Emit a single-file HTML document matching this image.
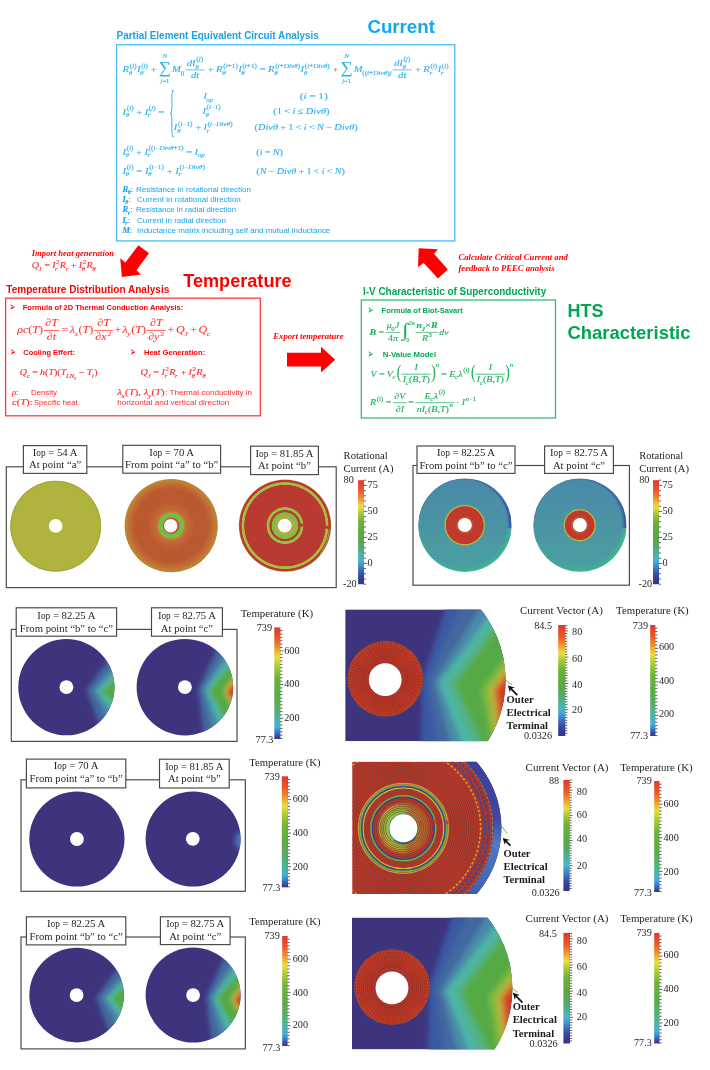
<!DOCTYPE html>
<html lang="en"><head><meta charset="utf-8"><title>Multiphysics analysis of HTS coil</title>
<style>html,body{margin:0;padding:0;background:#fff}svg{display:block}</style></head>
<body>
<svg width="710" height="1070" viewBox="0 0 710 1070">
<defs>
<linearGradient id="cb1" x1="0" y1="0" x2="0" y2="1"><stop offset="0" stop-color="#e2372c"/><stop offset="0.1" stop-color="#e8582a"/><stop offset="0.17" stop-color="#ee8c2e"/><stop offset="0.22" stop-color="#efbe36"/><stop offset="0.255" stop-color="#e6e03c"/><stop offset="0.32" stop-color="#a9c83a"/><stop offset="0.4" stop-color="#6fb13a"/><stop offset="0.55" stop-color="#58a844"/><stop offset="0.65" stop-color="#50aa72"/><stop offset="0.72" stop-color="#4cb4a4"/><stop offset="0.77" stop-color="#49b4cc"/><stop offset="0.82" stop-color="#3f8fd2"/><stop offset="0.88" stop-color="#3a5fb2"/><stop offset="0.94" stop-color="#373f96"/><stop offset="1" stop-color="#34348a"/></linearGradient>
<linearGradient id="cb2" x1="0" y1="0" x2="0" y2="1"><stop offset="0" stop-color="#f03a2e"/><stop offset="0.1" stop-color="#f4642c"/><stop offset="0.18" stop-color="#f8a030"/><stop offset="0.25" stop-color="#f2e23c"/><stop offset="0.33" stop-color="#a8d43a"/><stop offset="0.42" stop-color="#5cc03c"/><stop offset="0.56" stop-color="#46b64a"/><stop offset="0.66" stop-color="#44be86"/><stop offset="0.74" stop-color="#46c8c8"/><stop offset="0.8" stop-color="#3c9ee0"/><stop offset="0.87" stop-color="#3868c4"/><stop offset="0.94" stop-color="#3846a4"/><stop offset="1" stop-color="#363a94"/></linearGradient>
<linearGradient id="cb3" x1="0" y1="0" x2="0" y2="1"><stop offset="0" stop-color="#e2372c"/><stop offset="0.1" stop-color="#e8582a"/><stop offset="0.18" stop-color="#ee902e"/><stop offset="0.235" stop-color="#efc236"/><stop offset="0.27" stop-color="#e6e03c"/><stop offset="0.35" stop-color="#a9cb3a"/><stop offset="0.45" stop-color="#6fb43a"/><stop offset="0.6" stop-color="#5cac44"/><stop offset="0.72" stop-color="#56ae6c"/><stop offset="0.82" stop-color="#4eb4a0"/><stop offset="0.89" stop-color="#46aed6"/><stop offset="0.93" stop-color="#3c84cc"/><stop offset="0.965" stop-color="#3a54a8"/><stop offset="1" stop-color="#34348a"/></linearGradient>
<radialGradient id="rg4" cx="0.5" cy="0.5" r="0.5"><stop offset="0.0000" stop-color="#c8503a"/><stop offset="0.1652" stop-color="#c8503a"/><stop offset="0.1824" stop-color="#6cc040"/><stop offset="0.2661" stop-color="#74c044"/><stop offset="0.2897" stop-color="#c87a3a"/><stop offset="0.3433" stop-color="#c26a36"/><stop offset="0.4614" stop-color="#bd5e32"/><stop offset="0.5150" stop-color="#ba5830"/><stop offset="0.7725" stop-color="#ba5830"/><stop offset="0.8798" stop-color="#c06a32"/><stop offset="0.9549" stop-color="#c27e34"/><stop offset="1.0000" stop-color="#b08c34"/></radialGradient>
<radialGradient id="rg5" cx="0.5" cy="0.5" r="0.5"><stop offset="0.0000" stop-color="#b8a844"/><stop offset="0.1818" stop-color="#b8a844"/><stop offset="0.1991" stop-color="#a8b444"/><stop offset="0.2251" stop-color="#7cc040"/><stop offset="0.2814" stop-color="#84c042"/><stop offset="0.2944" stop-color="#b83c30"/><stop offset="0.3312" stop-color="#b83c30"/><stop offset="0.3442" stop-color="#8cc042"/><stop offset="0.3896" stop-color="#a0c044"/><stop offset="0.4048" stop-color="#b83a30"/><stop offset="0.8745" stop-color="#b83a30"/><stop offset="0.8874" stop-color="#a4bc42"/><stop offset="0.9307" stop-color="#b0bc42"/><stop offset="0.9459" stop-color="#b83a30"/><stop offset="0.9805" stop-color="#b83a30"/><stop offset="1.0000" stop-color="#b09c3c"/></radialGradient>
<clipPath id="cl6"><circle cx="465" cy="525.2" r="46.7"/></clipPath>
<linearGradient id="lg7" x1="0" y1="0" x2="0" y2="1"><stop offset="0" stop-color="#4a8aa8"/><stop offset="0.5" stop-color="#4c94a4"/><stop offset="1" stop-color="#4aa0a2"/></linearGradient>
<radialGradient id="rg8" cx="0.5" cy="0.5" r="0.5"><stop offset="0.0000" stop-color="#c86a40"/><stop offset="0.4067" stop-color="#c24a30"/><stop offset="0.4545" stop-color="#c03a2c"/><stop offset="0.8900" stop-color="#c03a2c"/><stop offset="0.9282" stop-color="#d8b040"/><stop offset="0.9569" stop-color="#70c060"/><stop offset="1.0000" stop-color="#4c94a4"/></radialGradient>
<clipPath id="cl9"><circle cx="580" cy="525.2" r="46.6"/></clipPath>
<linearGradient id="lg10" x1="0" y1="0" x2="0" y2="1"><stop offset="0" stop-color="#4a8aa8"/><stop offset="0.5" stop-color="#4c94a4"/><stop offset="1" stop-color="#4aa0a2"/></linearGradient>
<radialGradient id="rg11" cx="0.5" cy="0.5" r="0.5"><stop offset="0.0000" stop-color="#c86a40"/><stop offset="0.5090" stop-color="#c24a30"/><stop offset="0.5689" stop-color="#c03a2c"/><stop offset="0.8623" stop-color="#c03a2c"/><stop offset="0.9102" stop-color="#d8b040"/><stop offset="0.9461" stop-color="#70c060"/><stop offset="1.0000" stop-color="#4c94a4"/></radialGradient>
<filter id="bl1" x="-20%" y="-20%" width="140%" height="140%"><feGaussianBlur stdDeviation="1.9"/></filter>
<filter id="bl2" x="-20%" y="-20%" width="140%" height="140%"><feGaussianBlur stdDeviation="2.6"/></filter>
<filter id="bl08" x="-10%" y="-10%" width="120%" height="120%"><feGaussianBlur stdDeviation="0.9"/></filter>
<filter id="bl0" x="-20%" y="-20%" width="140%" height="140%"><feGaussianBlur stdDeviation="0.45"/></filter>
<clipPath id="cl12"><circle cx="66.4" cy="687.2" r="48.1"/></clipPath>
<clipPath id="cl13"><circle cx="184.9" cy="687.2" r="48.3"/></clipPath>
<clipPath id="cl14"><circle cx="392.2" cy="680.2" r="113.4"/></clipPath>
<clipPath id="cl15"><rect x="345.2" y="609.4" width="200" height="131.8"/></clipPath>
<radialGradient id="rg16" cx="0.5" cy="0.5" r="0.5"><stop offset="0.0000" stop-color="#a2322a"/><stop offset="0.4233" stop-color="#a2322a"/><stop offset="0.5159" stop-color="#b0362a"/><stop offset="0.5556" stop-color="#c83c28"/><stop offset="0.9259" stop-color="#cc402a"/><stop offset="0.9788" stop-color="#c44c2c"/><stop offset="1.0000" stop-color="#b45c2c"/></radialGradient>
<clipPath id="cl17"><circle cx="76.9" cy="839" r="47.6"/></clipPath>
<clipPath id="cl18"><circle cx="193.1" cy="839" r="47.5"/></clipPath>
<clipPath id="cl19"><circle cx="76.6" cy="995.1" r="47.2823"/></clipPath>
<clipPath id="cl20"><circle cx="193.0855" cy="995.1" r="47.478899999999996"/></clipPath>
<clipPath id="cl21"><circle cx="399.0" cy="988.4" r="113.4"/></clipPath>
<clipPath id="cl22"><rect x="352.0" y="917.6" width="200" height="131.8"/></clipPath>
<radialGradient id="rg23" cx="0.5" cy="0.5" r="0.5"><stop offset="0.0000" stop-color="#a2322a"/><stop offset="0.4233" stop-color="#a2322a"/><stop offset="0.5159" stop-color="#b0362a"/><stop offset="0.5556" stop-color="#c83c28"/><stop offset="0.9259" stop-color="#cc402a"/><stop offset="0.9788" stop-color="#c44c2c"/><stop offset="1.0000" stop-color="#b45c2c"/></radialGradient>
<clipPath id="cl24"><circle cx="401.2" cy="828" r="100.3"/></clipPath>
<clipPath id="cl25"><rect x="352.2" y="761.7" width="200" height="132.3"/></clipPath>
<radialGradient id="rg26" cx="0.5" cy="0.5" r="0.5"><stop offset="0.0000" stop-color="#3e9a5a"/><stop offset="0.5185" stop-color="#3c7a8a"/><stop offset="0.5630" stop-color="#7cc048"/><stop offset="0.6481" stop-color="#a8c442"/><stop offset="0.7593" stop-color="#c0b43c"/><stop offset="0.8704" stop-color="#c88a34"/><stop offset="0.9556" stop-color="#c8542e"/><stop offset="1.0000" stop-color="#c4392c"/></radialGradient>
<linearGradient id="lg27" x1="0" y1="0" x2="0" y2="1"><stop offset="0" stop-color="#3a3a98"/><stop offset="0.45" stop-color="#3c48a4"/><stop offset="0.58" stop-color="#4a7cc4"/><stop offset="0.72" stop-color="#4470bc"/><stop offset="1" stop-color="#3a44a0"/></linearGradient>
</defs>
<!-- top flow chart -->
<text x="116.60" y="38.60" font-size="10.0" font-family='"Liberation Sans", sans-serif' fill="#17a3e6" font-weight="bold" textLength="202.30" lengthAdjust="spacingAndGlyphs">Partial Element Equivalent Circuit Analysis</text>
<text x="367.40" y="33.00" font-size="18.5" font-family='"Liberation Sans", sans-serif' fill="#12a9ea" font-weight="bold" textLength="67.50" lengthAdjust="spacingAndGlyphs">Current</text>
<rect x="116.60" y="44.70" width="338.20" height="196.20" fill="none" stroke="#48bef1" stroke-width="1.3"/>
<text x="6.30" y="292.80" font-size="10.0" font-family='"Liberation Sans", sans-serif' fill="#ff0000" font-weight="bold" textLength="163.00" lengthAdjust="spacingAndGlyphs">Temperature Distribution Analysis</text>
<text x="183.20" y="286.60" font-size="18.5" font-family='"Liberation Sans", sans-serif' fill="#ff0000" font-weight="bold" textLength="108.40" lengthAdjust="spacingAndGlyphs">Temperature</text>
<rect x="5.60" y="298.20" width="254.70" height="117.60" fill="none" stroke="#ff3c3c" stroke-width="1.3"/>
<text x="363.00" y="294.90" font-size="10.0" font-family='"Liberation Sans", sans-serif' fill="#00a650" font-weight="bold" textLength="183.20" lengthAdjust="spacingAndGlyphs">I-V Characteristic of Superconductivity</text>
<rect x="361.30" y="300.00" width="194.20" height="118.00" fill="none" stroke="#3cbc78" stroke-width="1.3"/>
<text x="567.50" y="317.10" font-size="18.5" font-family='"Liberation Sans", sans-serif' fill="#00a650" font-weight="bold" textLength="36.00" lengthAdjust="spacingAndGlyphs">HTS</text>
<text x="567.50" y="339.40" font-size="18.5" font-family='"Liberation Sans", sans-serif' fill="#00a650" font-weight="bold" textLength="122.90" lengthAdjust="spacingAndGlyphs">Characteristic</text>
<polygon points="138.4,245.3 149.0,253.2 136.5,270.3 140.9,274.4 121.9,276.9 120.2,258.2 125.4,262.4" fill="#ff0000"/>
<polygon points="287.0,366.6 321.0,366.6 321.0,372.6 335.2,359.7 321.0,346.8 321.0,352.8 287.0,352.8" fill="#ff0000"/>
<polygon points="418.7,248.3 438.0,249.3 434.0,253.7 447.8,269.5 438.0,278.4 423.7,263.1 418.0,267.0" fill="#ff0000"/>
<text x="31.70" y="255.80" font-size="8.3" font-family='"Liberation Serif", serif' fill="#ff0000" font-weight="bold" font-style="italic" textLength="82.30" lengthAdjust="spacingAndGlyphs">Import heat generation</text>
<text x="273.30" y="339.40" font-size="8.3" font-family='"Liberation Serif", serif' fill="#ff0000" font-weight="bold" font-style="italic" textLength="70.20" lengthAdjust="spacingAndGlyphs">Export temperature</text>
<text x="458.50" y="260.10" font-size="8.3" font-family='"Liberation Serif", serif' fill="#ff0000" font-weight="bold" font-style="italic" textLength="109.30" lengthAdjust="spacingAndGlyphs">Calculate Critical Current and</text>
<text x="458.50" y="271.00" font-size="8.3" font-family='"Liberation Serif", serif' fill="#ff0000" font-weight="bold" font-style="italic" textLength="96.00" lengthAdjust="spacingAndGlyphs">feedback to PEEC analysis</text>
<!-- PEEC formulas -->
<g transform="translate(122.60,72.40) scale(1.2424,1)" fill="#2fb0ec" stroke="#2fb0ec" stroke-width="0.12" font-family='"Liberation Serif", serif'><text x="0.00" y="0.00" font-size="8.60" font-style="italic">R</text><text x="4.91" y="2.58" font-size="5.85" font-style="italic">θ</text><text x="5.77" y="-4.82" font-size="5.85">(</text><text x="7.72" y="-4.82" font-size="5.85" font-style="italic">i</text><text x="9.34" y="-4.82" font-size="5.85">)</text><text x="11.55" y="0.00" font-size="8.60" font-style="italic">I</text><text x="14.07" y="2.58" font-size="5.85" font-style="italic">θ</text><text x="14.93" y="-4.82" font-size="5.85">(</text><text x="16.87" y="-4.82" font-size="5.85" font-style="italic">i</text><text x="18.50" y="-4.82" font-size="5.85">)</text><text x="22.60" y="0.00" font-size="8.60">+</text><text transform="translate(29.34,1.03) scale(0.78,1)" font-size="17.20">∑</text><text x="30.54" y="10.58" font-size="5.33" font-style="italic">j</text><text x="32.02" y="10.58" font-size="5.33">=1</text><text x="32.34" y="-14.62" font-size="5.33" font-style="italic">N</text><text x="39.76" y="0.00" font-size="8.60" font-style="italic">M</text><text x="46.58" y="2.58" font-size="5.85" font-style="italic">ij</text><text x="51.64" y="-6.19" font-size="8.60" font-style="italic">d</text><text x="55.94" y="-6.19" font-size="8.60" font-style="italic">I</text><text x="58.46" y="-3.61" font-size="5.85" font-style="italic">θ</text><text x="59.32" y="-11.01" font-size="5.85">(</text><text x="61.27" y="-11.01" font-size="5.85" font-style="italic">j</text><text x="62.89" y="-11.01" font-size="5.85">)</text><text x="55.02" y="5.68" font-size="8.60" font-style="italic">dt</text><rect x="50.78" y="-2.77" width="15.18" height="0.56"/><text x="68.54" y="0.00" font-size="8.60">+</text><text x="75.28" y="0.00" font-size="8.60" font-style="italic">R</text><text x="80.19" y="2.58" font-size="5.85" font-style="italic">θ</text><text x="81.05" y="-4.82" font-size="5.85">(</text><text x="82.99" y="-4.82" font-size="5.85" font-style="italic">i</text><text x="84.62" y="-4.82" font-size="5.85">+1)</text><text x="93.05" y="0.00" font-size="8.60" font-style="italic">I</text><text x="95.57" y="2.58" font-size="5.85" font-style="italic">θ</text><text x="96.43" y="-4.82" font-size="5.85">(</text><text x="98.37" y="-4.82" font-size="5.85" font-style="italic">i</text><text x="100.00" y="-4.82" font-size="5.85">+1)</text><text x="110.32" y="0.00" font-size="8.60">=</text><text x="117.06" y="0.00" font-size="8.60" font-style="italic">R</text><text x="121.97" y="2.58" font-size="5.85" font-style="italic">θ</text><text x="122.83" y="-4.82" font-size="5.85">(</text><text x="124.78" y="-4.82" font-size="5.85" font-style="italic">i</text><text x="126.40" y="-4.82" font-size="5.85">+</text><text x="129.70" y="-4.82" font-size="5.85" font-style="italic">Divθ</text><text x="141.02" y="-4.82" font-size="5.85">)</text><text x="143.22" y="0.00" font-size="8.60" font-style="italic">I</text><text x="145.74" y="2.58" font-size="5.85" font-style="italic">θ</text><text x="146.60" y="-4.82" font-size="5.85">(</text><text x="148.55" y="-4.82" font-size="5.85" font-style="italic">i</text><text x="150.17" y="-4.82" font-size="5.85">+</text><text x="153.47" y="-4.82" font-size="5.85" font-style="italic">Divθ</text><text x="164.79" y="-4.82" font-size="5.85">)</text><text x="168.89" y="0.00" font-size="8.60">+</text><text transform="translate(175.63,1.03) scale(0.78,1)" font-size="17.20">∑</text><text x="176.83" y="10.58" font-size="5.33" font-style="italic">j</text><text x="178.31" y="10.58" font-size="5.33">=1</text><text x="178.63" y="-14.62" font-size="5.33" font-style="italic">N</text><text x="186.05" y="0.00" font-size="8.60" font-style="italic">M</text><text x="192.87" y="2.58" font-size="5.85">((</text><text x="196.77" y="2.58" font-size="5.85" font-style="italic">i</text><text x="198.39" y="2.58" font-size="5.85">+</text><text x="201.69" y="2.58" font-size="5.85" font-style="italic">Divθ</text><text x="213.01" y="2.58" font-size="5.85">)</text><text x="214.95" y="2.58" font-size="5.85" font-style="italic">j</text><text x="218.38" y="-6.19" font-size="8.60" font-style="italic">d</text><text x="222.68" y="-6.19" font-size="8.60" font-style="italic">I</text><text x="225.20" y="-3.61" font-size="5.85" font-style="italic">θ</text><text x="226.06" y="-11.01" font-size="5.85">(</text><text x="228.01" y="-11.01" font-size="5.85" font-style="italic">j</text><text x="229.64" y="-11.01" font-size="5.85">)</text><text x="221.77" y="5.68" font-size="8.60" font-style="italic">dt</text><rect x="217.52" y="-2.77" width="15.18" height="0.56"/><text x="235.28" y="0.00" font-size="8.60">+</text><text x="242.02" y="0.00" font-size="8.60" font-style="italic">R</text><text x="246.93" y="2.58" font-size="5.85" font-style="italic">r</text><text x="247.79" y="-4.82" font-size="5.85">(</text><text x="249.74" y="-4.82" font-size="5.85" font-style="italic">i</text><text x="251.36" y="-4.82" font-size="5.85">)</text><text x="253.57" y="0.00" font-size="8.60" font-style="italic">I</text><text x="256.09" y="2.58" font-size="5.85" font-style="italic">r</text><text x="256.95" y="-4.82" font-size="5.85">(</text><text x="258.90" y="-4.82" font-size="5.85" font-style="italic">i</text><text x="260.52" y="-4.82" font-size="5.85">)</text></g>
<g transform="translate(122.60,114.70) scale(1.2407,1)" fill="#2fb0ec" stroke="#2fb0ec" stroke-width="0.12" font-family='"Liberation Serif", serif'><text x="0.00" y="0.00" font-size="8.60" font-style="italic">I</text><text x="2.52" y="2.58" font-size="5.85" font-style="italic">θ</text><text x="3.38" y="-4.82" font-size="5.85">(</text><text x="5.33" y="-4.82" font-size="5.85" font-style="italic">i</text><text x="6.95" y="-4.82" font-size="5.85">)</text><text x="11.05" y="0.00" font-size="8.60">+</text><text x="17.79" y="0.00" font-size="8.60" font-style="italic">I</text><text x="20.31" y="2.58" font-size="5.85" font-style="italic">r</text><text x="21.17" y="-4.82" font-size="5.85">(</text><text x="23.12" y="-4.82" font-size="5.85" font-style="italic">j</text><text x="24.74" y="-4.82" font-size="5.85">)</text><text x="28.84" y="0.00" font-size="8.60">=</text></g>
<text transform="translate(169.3,130.15) scale(0.375,1.911)" font-size="30.0" font-family='"Liberation Serif", serif' fill="#2fb0ec">{</text>
<g transform="translate(203.40,99.30) scale(1.1825,1)" fill="#2fb0ec" stroke="#2fb0ec" stroke-width="0.12" font-family='"Liberation Serif", serif'><text x="0.00" y="0.00" font-size="8.60" font-style="italic">I</text><text x="2.52" y="2.58" font-size="5.85" font-style="italic">op</text></g>
<g transform="translate(202.50,114.20) scale(1.2029,1)" fill="#2fb0ec" stroke="#2fb0ec" stroke-width="0.12" font-family='"Liberation Serif", serif'><text x="0.00" y="0.00" font-size="8.60" font-style="italic">I</text><text x="2.52" y="2.58" font-size="5.85" font-style="italic">θ</text><text x="3.38" y="-4.82" font-size="5.85">(</text><text x="5.33" y="-4.82" font-size="5.85" font-style="italic">i</text><text x="6.95" y="-4.82" font-size="5.85">−1)</text></g>
<g transform="translate(173.80,130.40) scale(1.2368,1)" fill="#2fb0ec" stroke="#2fb0ec" stroke-width="0.12" font-family='"Liberation Serif", serif'><text x="0.00" y="0.00" font-size="8.60" font-style="italic">I</text><text x="2.52" y="2.58" font-size="5.85" font-style="italic">θ</text><text x="3.38" y="-4.82" font-size="5.85">(</text><text x="5.33" y="-4.82" font-size="5.85" font-style="italic">i</text><text x="6.95" y="-4.82" font-size="5.85">−1)</text><text x="17.27" y="0.00" font-size="8.60">+</text><text x="24.01" y="0.00" font-size="8.60" font-style="italic">I</text><text x="26.53" y="2.58" font-size="5.85" font-style="italic">r</text><text x="27.39" y="-4.82" font-size="5.85">(</text><text x="29.34" y="-4.82" font-size="5.85" font-style="italic">i</text><text x="30.97" y="-4.82" font-size="5.85">−</text><text x="34.26" y="-4.82" font-size="5.85" font-style="italic">Divθ</text><text x="45.58" y="-4.82" font-size="5.85">)</text></g>
<g transform="translate(299.70,98.60) scale(1.3396,1)" fill="#2fb0ec" stroke="#2fb0ec" stroke-width="0.12" font-family='"Liberation Serif", serif'><text x="0.00" y="0.00" font-size="8.60">(</text><text x="2.86" y="0.00" font-size="8.60" font-style="italic">i</text><text x="7.15" y="0.00" font-size="8.60">=</text><text x="13.89" y="0.00" font-size="8.60">1)</text></g>
<g transform="translate(273.20,114.20) scale(1.2209,1)" fill="#2fb0ec" stroke="#2fb0ec" stroke-width="0.12" font-family='"Liberation Serif", serif'><text x="0.00" y="0.00" font-size="8.60">(1</text><text x="9.06" y="0.00" font-size="8.60">&lt;</text><text x="15.80" y="0.00" font-size="8.60" font-style="italic">i</text><text x="20.08" y="0.00" font-size="8.60">≤</text><text x="26.69" y="0.00" font-size="8.60" font-style="italic">Divθ</text><text x="43.33" y="0.00" font-size="8.60">)</text></g>
<g transform="translate(254.60,130.40) scale(1.1992,1)" fill="#2fb0ec" stroke="#2fb0ec" stroke-width="0.12" font-family='"Liberation Serif", serif'><text x="0.00" y="0.00" font-size="8.60">(</text><text x="2.86" y="0.00" font-size="8.60" font-style="italic">Divθ</text><text x="21.40" y="0.00" font-size="8.60">+</text><text x="28.14" y="0.00" font-size="8.60">1</text><text x="34.33" y="0.00" font-size="8.60">&lt;</text><text x="41.07" y="0.00" font-size="8.60" font-style="italic">i</text><text x="45.35" y="0.00" font-size="8.60">&lt;</text><text x="52.10" y="0.00" font-size="8.60" font-style="italic">N</text><text x="59.73" y="0.00" font-size="8.60">−</text><text x="66.47" y="0.00" font-size="8.60" font-style="italic">Divθ</text><text x="83.11" y="0.00" font-size="8.60">)</text></g>
<g transform="translate(122.40,154.60) scale(1.2374,1)" fill="#2fb0ec" stroke="#2fb0ec" stroke-width="0.12" font-family='"Liberation Serif", serif'><text x="0.00" y="0.00" font-size="8.60" font-style="italic">I</text><text x="2.52" y="2.58" font-size="5.85" font-style="italic">θ</text><text x="3.38" y="-4.82" font-size="5.85">(</text><text x="5.33" y="-4.82" font-size="5.85" font-style="italic">i</text><text x="6.95" y="-4.82" font-size="5.85">)</text><text x="11.05" y="0.00" font-size="8.60">+</text><text x="17.79" y="0.00" font-size="8.60" font-style="italic">I</text><text x="20.31" y="2.58" font-size="5.85" font-style="italic">r</text><text x="21.17" y="-4.82" font-size="5.85">((</text><text x="25.07" y="-4.82" font-size="5.85" font-style="italic">i</text><text x="26.69" y="-4.82" font-size="5.85">−</text><text x="29.99" y="-4.82" font-size="5.85" font-style="italic">Divθ</text><text x="41.31" y="-4.82" font-size="5.85">+1)</text><text x="51.62" y="0.00" font-size="8.60">=</text><text x="58.37" y="0.00" font-size="8.60" font-style="italic">I</text><text x="60.89" y="2.58" font-size="5.85" font-style="italic">op</text></g>
<g transform="translate(256.30,154.60) scale(1.1873,1)" fill="#2fb0ec" stroke="#2fb0ec" stroke-width="0.12" font-family='"Liberation Serif", serif'><text x="0.00" y="0.00" font-size="8.60">(</text><text x="2.86" y="0.00" font-size="8.60" font-style="italic">i</text><text x="7.15" y="0.00" font-size="8.60">=</text><text x="13.89" y="0.00" font-size="8.60" font-style="italic">N</text><text x="19.62" y="0.00" font-size="8.60">)</text></g>
<g transform="translate(122.40,173.90) scale(1.2642,1)" fill="#2fb0ec" stroke="#2fb0ec" stroke-width="0.12" font-family='"Liberation Serif", serif'><text x="0.00" y="0.00" font-size="8.60" font-style="italic">I</text><text x="2.52" y="2.58" font-size="5.85" font-style="italic">θ</text><text x="3.38" y="-4.82" font-size="5.85">(</text><text x="5.33" y="-4.82" font-size="5.85" font-style="italic">i</text><text x="6.95" y="-4.82" font-size="5.85">)</text><text x="11.05" y="0.00" font-size="8.60">=</text><text x="17.79" y="0.00" font-size="8.60" font-style="italic">I</text><text x="20.31" y="2.58" font-size="5.85" font-style="italic">θ</text><text x="21.17" y="-4.82" font-size="5.85">(</text><text x="23.12" y="-4.82" font-size="5.85" font-style="italic">i</text><text x="24.74" y="-4.82" font-size="5.85">−1)</text><text x="35.06" y="0.00" font-size="8.60">+</text><text x="41.81" y="0.00" font-size="8.60" font-style="italic">I</text><text x="44.33" y="2.58" font-size="5.85" font-style="italic">r</text><text x="45.19" y="-4.82" font-size="5.85">(</text><text x="47.13" y="-4.82" font-size="5.85" font-style="italic">i</text><text x="48.76" y="-4.82" font-size="5.85">−</text><text x="52.06" y="-4.82" font-size="5.85" font-style="italic">Divθ</text><text x="63.37" y="-4.82" font-size="5.85">)</text></g>
<g transform="translate(256.30,173.90) scale(1.1803,1)" fill="#2fb0ec" stroke="#2fb0ec" stroke-width="0.12" font-family='"Liberation Serif", serif'><text x="0.00" y="0.00" font-size="8.60">(</text><text x="2.86" y="0.00" font-size="8.60" font-style="italic">N</text><text x="10.49" y="0.00" font-size="8.60">−</text><text x="17.23" y="0.00" font-size="8.60" font-style="italic">Divθ</text><text x="35.77" y="0.00" font-size="8.60">+</text><text x="42.51" y="0.00" font-size="8.60">1</text><text x="48.70" y="0.00" font-size="8.60">&lt;</text><text x="55.44" y="0.00" font-size="8.60" font-style="italic">i</text><text x="59.73" y="0.00" font-size="8.60">&lt;</text><text x="66.47" y="0.00" font-size="8.60" font-style="italic">N</text><text x="72.20" y="0.00" font-size="8.60">)</text></g>
<g transform="translate(122.40,191.50) scale(1.0000,1)" fill="#1aa3e6" stroke="#1aa3e6" stroke-width="0.12" font-family='"Liberation Serif", serif'><text x="0.00" y="0.00" font-size="8.40" font-style="italic" font-weight="bold">R</text><text x="5.27" y="2.52" font-size="5.71" font-style="italic" font-weight="bold">θ</text><text x="8.48" y="0.00" font-size="8.40">:</text></g>
<text x="136.00" y="191.50" font-size="7.1" font-family='"Liberation Sans", sans-serif' fill="#1aa3e6" textLength="114.90" lengthAdjust="spacingAndGlyphs">Resistance in rotational direction</text>
<g transform="translate(122.40,201.90) scale(1.0000,1)" fill="#1aa3e6" stroke="#1aa3e6" stroke-width="0.12" font-family='"Liberation Serif", serif'><text x="0.00" y="0.00" font-size="8.40" font-style="italic" font-weight="bold">I</text><text x="2.93" y="2.52" font-size="5.71" font-style="italic" font-weight="bold">θ</text><text x="6.15" y="0.00" font-size="8.40">:</text></g>
<text x="137.00" y="201.90" font-size="7.1" font-family='"Liberation Sans", sans-serif' fill="#1aa3e6" textLength="103.80" lengthAdjust="spacingAndGlyphs">Current in rotational direction</text>
<g transform="translate(122.40,212.10) scale(1.0000,1)" fill="#1aa3e6" stroke="#1aa3e6" stroke-width="0.12" font-family='"Liberation Serif", serif'><text x="0.00" y="0.00" font-size="8.40" font-style="italic" font-weight="bold">R</text><text x="5.27" y="2.52" font-size="5.71" font-style="italic" font-weight="bold">r</text><text x="7.74" y="0.00" font-size="8.40">:</text></g>
<text x="136.00" y="212.10" font-size="7.1" font-family='"Liberation Sans", sans-serif' fill="#1aa3e6" textLength="100.00" lengthAdjust="spacingAndGlyphs">Resistance in radial direction</text>
<g transform="translate(122.40,222.90) scale(1.0000,1)" fill="#1aa3e6" stroke="#1aa3e6" stroke-width="0.12" font-family='"Liberation Serif", serif'><text x="0.00" y="0.00" font-size="8.40" font-style="italic" font-weight="bold">I</text><text x="2.93" y="2.52" font-size="5.71" font-style="italic" font-weight="bold">r</text><text x="5.41" y="0.00" font-size="8.40">:</text></g>
<text x="137.00" y="222.90" font-size="7.1" font-family='"Liberation Sans", sans-serif' fill="#1aa3e6" textLength="88.90" lengthAdjust="spacingAndGlyphs">Current in radial direction</text>
<g transform="translate(122.40,233.40) scale(1.0000,1)" fill="#1aa3e6" stroke="#1aa3e6" stroke-width="0.12" font-family='"Liberation Serif", serif'><text x="0.00" y="0.00" font-size="8.40" font-style="italic" font-weight="bold">M</text><text x="7.47" y="0.00" font-size="8.40">:</text></g>
<text x="137.00" y="233.40" font-size="7.1" font-family='"Liberation Sans", sans-serif' fill="#1aa3e6" textLength="193.30" lengthAdjust="spacingAndGlyphs">Inductance matrix including self and mutual inductance</text>
<!-- thermal formulas -->
<text x="9.60" y="311.30" font-size="12.5" font-family='"DejaVu Sans", sans-serif' fill="#ff0000" textLength="5.80" lengthAdjust="spacingAndGlyphs">➢</text>
<text x="22.80" y="310.30" font-size="7.4" font-family='"Liberation Sans", sans-serif' fill="#ff0000" font-weight="bold" textLength="160.40" lengthAdjust="spacingAndGlyphs">Formula of 2D Thermal Conduction Analysis:</text>
<g transform="translate(17.20,333.30) scale(1.1804,1)" fill="#ff2a2a" stroke="#ff2a2a" stroke-width="0.04" font-family='"Liberation Serif", serif'><text x="0.00" y="0.00" font-size="10.20" font-style="italic">ρc</text><text x="9.42" y="0.00" font-size="10.20">(</text><text x="12.82" y="0.00" font-size="10.20" font-style="italic">T</text><text x="18.49" y="0.00" font-size="10.20">)</text><text x="23.73" y="-7.34" font-size="10.20">∂</text><text x="28.77" y="-7.34" font-size="10.20" font-style="italic">T</text><text x="25.14" y="6.73" font-size="10.20">∂</text><text x="30.18" y="6.73" font-size="10.20" font-style="italic">t</text><rect x="22.71" y="-3.29" width="12.75" height="0.66"/><text x="37.50" y="0.00" font-size="10.20">=</text><text x="44.47" y="0.00" font-size="10.20" font-style="italic">λ</text><text x="48.48" y="3.06" font-size="6.94" font-style="italic">x</text><text x="51.87" y="0.00" font-size="10.20">(</text><text x="55.27" y="0.00" font-size="10.20" font-style="italic">T</text><text x="60.94" y="0.00" font-size="10.20">)</text><text x="67.79" y="-7.34" font-size="10.20">∂</text><text x="72.83" y="-7.34" font-size="10.20" font-style="italic">T</text><text x="66.17" y="6.73" font-size="10.20">∂</text><text x="71.21" y="6.73" font-size="10.20" font-style="italic">x</text><text x="76.35" y="2.65" font-size="6.94">2</text><rect x="65.15" y="-3.29" width="15.99" height="0.66"/><text x="82.47" y="0.00" font-size="10.20">+</text><text x="89.24" y="0.00" font-size="10.20" font-style="italic">λ</text><text x="93.25" y="3.06" font-size="6.94" font-style="italic">y</text><text x="96.64" y="0.00" font-size="10.20">(</text><text x="100.03" y="0.00" font-size="10.20" font-style="italic">T</text><text x="105.71" y="0.00" font-size="10.20">)</text><text x="112.56" y="-7.34" font-size="10.20">∂</text><text x="117.60" y="-7.34" font-size="10.20" font-style="italic">T</text><text x="110.94" y="6.73" font-size="10.20">∂</text><text x="115.98" y="6.73" font-size="10.20" font-style="italic">y</text><text x="121.12" y="2.65" font-size="6.94">2</text><rect x="109.92" y="-3.29" width="15.99" height="0.66"/><text x="127.24" y="0.00" font-size="10.20">+</text><text x="134.52" y="0.00" font-size="10.20" font-style="italic">Q</text><text x="141.48" y="3.06" font-size="6.94" font-style="italic">J</text><text x="146.39" y="0.00" font-size="10.20">+</text><text x="153.68" y="0.00" font-size="10.20" font-style="italic">Q</text><text x="160.63" y="3.06" font-size="6.94" font-style="italic">c</text></g>
<text x="10.00" y="356.20" font-size="12.5" font-family='"DejaVu Sans", sans-serif' fill="#ff0000" textLength="5.80" lengthAdjust="spacingAndGlyphs">➢</text>
<text x="23.30" y="355.20" font-size="7.4" font-family='"Liberation Sans", sans-serif' fill="#ff0000" font-weight="bold" textLength="51.70" lengthAdjust="spacingAndGlyphs">Cooling Effert:</text>
<text x="130.00" y="356.20" font-size="12.5" font-family='"DejaVu Sans", sans-serif' fill="#ff0000" textLength="5.80" lengthAdjust="spacingAndGlyphs">➢</text>
<text x="143.90" y="355.20" font-size="7.4" font-family='"Liberation Sans", sans-serif' fill="#ff0000" font-weight="bold" textLength="61.30" lengthAdjust="spacingAndGlyphs">Heat Generation:</text>
<g transform="translate(19.80,375.40) scale(1.1677,1)" fill="#ff2a2a" stroke="#ff2a2a" stroke-width="0.12" font-family='"Liberation Serif", serif'><text x="0.00" y="0.00" font-size="8.60" font-style="italic">Q</text><text x="5.87" y="2.58" font-size="5.85" font-style="italic">c</text><text x="10.61" y="0.00" font-size="8.60">=</text><text x="17.35" y="0.00" font-size="8.60" font-style="italic">h</text><text x="21.65" y="0.00" font-size="8.60">(</text><text x="24.52" y="0.00" font-size="8.60" font-style="italic">T</text><text x="29.30" y="0.00" font-size="8.60">)(</text><text x="35.03" y="0.00" font-size="8.60" font-style="italic">T</text><text x="39.47" y="2.58" font-size="5.85" font-style="italic">LN</text><text x="46.39" y="4.33" font-size="3.98">2</text><text x="50.70" y="0.00" font-size="8.60">−</text><text x="57.44" y="0.00" font-size="8.60" font-style="italic">T</text><text x="61.88" y="2.58" font-size="5.85" font-style="italic">t</text><text x="63.76" y="0.00" font-size="8.60">)</text></g>
<g transform="translate(140.60,375.40) scale(1.1979,1)" fill="#ff2a2a" stroke="#ff2a2a" stroke-width="0.12" font-family='"Liberation Serif", serif'><text x="0.00" y="0.00" font-size="8.60" font-style="italic">Q</text><text x="5.87" y="2.58" font-size="5.85" font-style="italic">J</text><text x="10.61" y="0.00" font-size="8.60">=</text><text x="17.35" y="0.00" font-size="8.60" font-style="italic">I</text><text x="19.87" y="2.58" font-size="5.85" font-style="italic">r</text><text x="20.73" y="-3.96" font-size="5.85">2</text><text x="23.92" y="0.00" font-size="8.60" font-style="italic">R</text><text x="28.83" y="2.58" font-size="5.85" font-style="italic">r</text><text x="33.25" y="0.00" font-size="8.60">+</text><text x="39.99" y="0.00" font-size="8.60" font-style="italic">I</text><text x="42.51" y="2.58" font-size="5.85" font-style="italic">θ</text><text x="43.37" y="-3.96" font-size="5.85">2</text><text x="46.56" y="0.00" font-size="8.60" font-style="italic">R</text><text x="51.46" y="2.58" font-size="5.85" font-style="italic">θ</text></g>
<g transform="translate(11.90,395.20) scale(1.0000,1)" fill="#ff2a2a" stroke="#ff2a2a" stroke-width="0.12" font-family='"Liberation Serif", serif'><text x="0.00" y="0.00" font-size="8.60" font-style="italic">ρ</text><text x="4.13" y="0.00" font-size="8.60">:</text></g>
<text x="31.00" y="395.20" font-size="7.1" font-family='"Liberation Sans", sans-serif' fill="#ff2a2a" textLength="26.00" lengthAdjust="spacingAndGlyphs">Density</text>
<g transform="translate(11.90,405.40) scale(1.2383,1)" fill="#ff2a2a" stroke="#ff2a2a" stroke-width="0.12" font-family='"Liberation Serif", serif'><text x="0.00" y="0.00" font-size="8.60" font-style="italic">c</text><text x="3.82" y="0.00" font-size="8.60">(</text><text x="6.68" y="0.00" font-size="8.60" font-style="italic">T</text><text x="11.46" y="0.00" font-size="8.60">):</text></g>
<text x="34.00" y="405.40" font-size="7.1" font-family='"Liberation Sans", sans-serif' fill="#ff2a2a" textLength="43.50" lengthAdjust="spacingAndGlyphs">Specific heat</text>
<g transform="translate(117.20,395.20) scale(1.2569,1)" fill="#ff2a2a" stroke="#ff2a2a" stroke-width="0.12" font-family='"Liberation Serif", serif'><text x="0.00" y="0.00" font-size="8.60" font-style="italic">λ</text><text x="3.38" y="2.58" font-size="5.85" font-style="italic">x</text><text x="6.23" y="0.00" font-size="8.60">(</text><text x="9.10" y="0.00" font-size="8.60" font-style="italic">T</text><text x="13.88" y="0.00" font-size="8.60">),</text><text x="21.04" y="0.00" font-size="8.60" font-style="italic">λ</text><text x="24.43" y="2.58" font-size="5.85" font-style="italic">y</text><text x="27.28" y="0.00" font-size="8.60">(</text><text x="30.14" y="0.00" font-size="8.60" font-style="italic">T</text><text x="34.93" y="0.00" font-size="8.60">)</text></g>
<text x="165.20" y="395.20" font-size="7.1" font-family='"Liberation Sans", sans-serif' fill="#ff2a2a" textLength="86.90" lengthAdjust="spacingAndGlyphs">: Thermal conductivity in</text>
<text x="117.20" y="405.40" font-size="7.1" font-family='"Liberation Sans", sans-serif' fill="#ff2a2a" textLength="112.10" lengthAdjust="spacingAndGlyphs">horizontal and vertical direction</text>
<g transform="translate(31.70,268.00) scale(1.2058,1)" fill="#ff2a2a" stroke="#ff2a2a" stroke-width="0.12" font-family='"Liberation Serif", serif'><text x="0.00" y="0.00" font-size="8.40" font-style="italic">Q</text><text x="5.73" y="2.52" font-size="5.71" font-style="italic">J</text><text x="10.37" y="0.00" font-size="8.40">=</text><text x="16.95" y="0.00" font-size="8.40" font-style="italic">I</text><text x="19.41" y="2.52" font-size="5.71" font-style="italic">r</text><text x="20.25" y="-3.86" font-size="5.71">2</text><text x="23.36" y="0.00" font-size="8.40" font-style="italic">R</text><text x="28.16" y="2.52" font-size="5.71" font-style="italic">r</text><text x="32.48" y="0.00" font-size="8.40">+</text><text x="39.06" y="0.00" font-size="8.40" font-style="italic">I</text><text x="41.52" y="2.52" font-size="5.71" font-style="italic">θ</text><text x="42.36" y="-3.86" font-size="5.71">2</text><text x="45.47" y="0.00" font-size="8.40" font-style="italic">R</text><text x="50.27" y="2.52" font-size="5.71" font-style="italic">θ</text></g>
<!-- I-V formulas -->
<text x="367.40" y="314.20" font-size="12.5" font-family='"DejaVu Sans", sans-serif' fill="#00a650" textLength="5.80" lengthAdjust="spacingAndGlyphs">➢</text>
<text x="381.60" y="313.20" font-size="7.4" font-family='"Liberation Sans", sans-serif' fill="#00a650" font-weight="bold" textLength="81.10" lengthAdjust="spacingAndGlyphs">Formula of Biot-Savart</text>
<g transform="translate(369.60,334.70) scale(1.1799,1)" fill="#1faf5f" stroke="#1faf5f" stroke-width="0.12" font-family='"Liberation Serif", serif'><text x="0.00" y="0.00" font-size="8.40" font-style="italic" font-weight="bold">B</text><text x="7.45" y="0.00" font-size="8.40">=</text><text x="14.54" y="-6.72" font-size="8.40" font-style="italic">μ</text><text x="18.42" y="-4.20" font-size="5.71">0</text><text x="21.53" y="-6.72" font-size="8.40" font-style="italic">J</text><text x="15.69" y="5.88" font-size="8.40">4</text><text x="19.89" y="5.88" font-size="8.40" font-style="italic">π</text><rect x="13.70" y="-2.71" width="12.40" height="0.55"/><text x="27.61" y="1.11" font-size="18.48">∫</text><text x="31.15" y="7.14" font-size="5.21">0</text><text x="33.18" y="-9.91" font-size="5.21">2</text><text x="35.78" y="-9.91" font-size="5.21" font-style="italic">π</text><text x="39.82" y="-6.72" font-size="8.40" font-style="italic" font-weight="bold">n</text><text x="44.15" y="-4.20" font-size="5.71" font-style="italic" font-weight="bold">J</text><text x="47.26" y="-6.72" font-size="8.40">×</text><text x="52.00" y="-6.72" font-size="8.40" font-style="italic" font-weight="bold">R</text><text x="44.34" y="5.88" font-size="8.40" font-style="italic">R</text><text x="49.97" y="2.35" font-size="5.71">3</text><rect x="38.98" y="-2.71" width="19.46" height="0.55"/><text x="59.11" y="0.00" font-size="8.40" font-style="italic">dv</text></g>
<text x="367.40" y="358.00" font-size="12.5" font-family='"DejaVu Sans", sans-serif' fill="#00a650" textLength="5.80" lengthAdjust="spacingAndGlyphs">➢</text>
<text x="382.80" y="357.00" font-size="7.4" font-family='"Liberation Sans", sans-serif' fill="#00a650" font-weight="bold" textLength="53.30" lengthAdjust="spacingAndGlyphs">N-Value Model</text>
<g transform="translate(370.60,376.60) scale(1.1922,1)" fill="#1faf5f" stroke="#1faf5f" stroke-width="0.12" font-family='"Liberation Serif", serif'><text x="0.00" y="0.00" font-size="8.40" font-style="italic">V</text><text x="6.98" y="0.00" font-size="8.40">=</text><text x="13.56" y="0.00" font-size="8.40" font-style="italic">V</text><text x="18.36" y="2.52" font-size="5.71" font-style="italic">c</text><text transform="translate(21.99,1.85) scale(0.62,1)" font-size="18.48">(</text><text x="36.91" y="-6.72" font-size="8.40" font-style="italic">I</text><text x="26.93" y="5.71" font-size="8.40" font-style="italic">I</text><text x="29.39" y="8.23" font-size="5.71" font-style="italic">c</text><text x="32.18" y="5.71" font-size="8.40">(</text><text x="34.98" y="5.71" font-size="8.40" font-style="italic">B</text><text x="40.11" y="5.71" font-size="8.40">,</text><text x="42.21" y="5.71" font-size="8.40" font-style="italic">T</text><text x="46.88" y="5.71" font-size="8.40">)</text><rect x="26.09" y="-2.71" width="24.43" height="0.55"/><text transform="translate(50.81,1.85) scale(0.62,1)" font-size="18.48">)</text><text x="54.62" y="-10.08" font-size="5.71" font-style="italic">n</text><text x="59.33" y="0.00" font-size="8.40">=</text><text x="65.91" y="0.00" font-size="8.40" font-style="italic">E</text><text x="70.71" y="2.52" font-size="5.71" font-style="italic">c</text><text x="73.50" y="0.00" font-size="8.40" font-style="italic">λ</text><text x="77.64" y="-4.70" font-size="5.71">(</text><text x="79.54" y="-4.70" font-size="5.71" font-style="italic">i</text><text x="81.13" y="-4.70" font-size="5.71">)</text><text transform="translate(84.12,1.85) scale(0.62,1)" font-size="18.48">(</text><text x="99.04" y="-6.72" font-size="8.40" font-style="italic">I</text><text x="89.07" y="5.71" font-size="8.40" font-style="italic">I</text><text x="91.53" y="8.23" font-size="5.71" font-style="italic">c</text><text x="94.32" y="5.71" font-size="8.40">(</text><text x="97.11" y="5.71" font-size="8.40" font-style="italic">B</text><text x="102.24" y="5.71" font-size="8.40">,</text><text x="104.34" y="5.71" font-size="8.40" font-style="italic">T</text><text x="109.02" y="5.71" font-size="8.40">)</text><rect x="88.23" y="-2.71" width="24.43" height="0.55"/><text transform="translate(112.94,1.85) scale(0.62,1)" font-size="18.48">)</text><text x="116.76" y="-10.08" font-size="5.71" font-style="italic">n</text></g>
<g transform="translate(370.10,405.20) scale(1.1969,1)" fill="#1faf5f" stroke="#1faf5f" stroke-width="0.12" font-family='"Liberation Serif", serif'><text x="0.00" y="0.00" font-size="8.40" font-style="italic">R</text><text x="5.64" y="-4.70" font-size="5.71">(</text><text x="7.54" y="-4.70" font-size="5.71" font-style="italic">i</text><text x="9.12" y="-4.70" font-size="5.71">)</text><text x="13.13" y="0.00" font-size="8.40">=</text><text x="20.22" y="-6.30" font-size="8.40">∂</text><text x="24.37" y="-6.30" font-size="8.40" font-style="italic">V</text><text x="21.38" y="6.38" font-size="8.40">∂</text><text x="25.53" y="6.38" font-size="8.40" font-style="italic">I</text><rect x="19.38" y="-2.71" width="10.96" height="0.55"/><text x="31.85" y="0.00" font-size="8.40">=</text><text x="45.53" y="-6.30" font-size="8.40" font-style="italic">E</text><text x="50.33" y="-3.78" font-size="5.71" font-style="italic">c</text><text x="53.12" y="-6.30" font-size="8.40" font-style="italic">λ</text><text x="57.26" y="-11.00" font-size="5.71">(</text><text x="59.16" y="-11.00" font-size="5.71" font-style="italic">i</text><text x="60.75" y="-11.00" font-size="5.71">)</text><text x="38.94" y="6.38" font-size="8.40" font-style="italic">n</text><text x="43.14" y="6.38" font-size="8.40" font-style="italic">I</text><text x="45.60" y="8.90" font-size="5.71" font-style="italic">c</text><text x="48.39" y="6.38" font-size="8.40">(</text><text x="51.18" y="6.38" font-size="8.40" font-style="italic">B</text><text x="56.32" y="6.38" font-size="8.40">,</text><text x="58.42" y="6.38" font-size="8.40" font-style="italic">T</text><text x="63.09" y="6.38" font-size="8.40">)</text><text x="66.39" y="1.68" font-size="5.71" font-style="italic">n</text><rect x="38.10" y="-2.71" width="32.24" height="0.55"/><text x="71.85" y="0.00" font-size="8.40">·</text><text x="76.49" y="0.00" font-size="8.40" font-style="italic">I</text><text x="79.80" y="-4.70" font-size="5.71" font-style="italic">n</text><text x="82.65" y="-4.70" font-size="5.71">−1</text></g>
<!-- simulation result panels -->
<rect x="6.30" y="466.80" width="329.90" height="120.80" fill="none" stroke="#464646" stroke-width="1.15"/>
<rect x="23.40" y="445.60" width="63.40" height="27.80" fill="#fff" stroke="#464646" stroke-width="1.15"/>
<text x="55.10" y="456.00" font-size="10.7" font-family='"Liberation Serif", serif' fill="#1f1f1f" text-anchor="middle">I<tspan font-size="9.3">op</tspan> = 54 A</text>
<text x="55.10" y="468.40" font-size="10.7" font-family='"Liberation Serif", serif' fill="#1f1f1f" text-anchor="middle">At point “a”</text>
<rect x="122.80" y="445.30" width="97.80" height="27.90" fill="#fff" stroke="#464646" stroke-width="1.15"/>
<text x="171.70" y="455.70" font-size="10.7" font-family='"Liberation Serif", serif' fill="#1f1f1f" text-anchor="middle">I<tspan font-size="9.3">op</tspan> = 70 A</text>
<text x="171.70" y="468.10" font-size="10.7" font-family='"Liberation Serif", serif' fill="#1f1f1f" text-anchor="middle">From point “a” to “b”</text>
<rect x="250.60" y="446.20" width="67.80" height="28.40" fill="#fff" stroke="#464646" stroke-width="1.15"/>
<text x="284.50" y="456.60" font-size="10.7" font-family='"Liberation Serif", serif' fill="#1f1f1f" text-anchor="middle">I<tspan font-size="9.3">op</tspan> = 81.85 A</text>
<text x="284.50" y="469.00" font-size="10.7" font-family='"Liberation Serif", serif' fill="#1f1f1f" text-anchor="middle">At point “b”</text>
<circle cx="55.7" cy="526.2" r="45.4" fill="#b1b33f"/>
<circle cx="55.7" cy="526.2" r="44.9" fill="none" stroke="#a3a63a" stroke-width="1"/>
<circle cx="55.7" cy="525.9" r="6.8" fill="#fff"/>
<circle cx="171.2" cy="525.7" r="46.6" fill="url(#rg4)"/>
<circle cx="170.7" cy="525.7" r="6.7" fill="#fff"/>
<circle cx="285" cy="525.6" r="46.2" fill="url(#rg5)"/>
<path d="M300.2 523.6l3.6 0.4l0 2.6l-3.6 -0.2zM325.2 525.4l3.4 0.6l0 3l-3.4 -0.8z" fill="#b83a30"/>
<path d="M329.3 529a44.4 44.4 0 0 1 -9 25" fill="none" stroke="#a8a040" stroke-width="1.1"/>
<circle cx="284.7" cy="525.6" r="6.9" fill="#fff"/>
<text x="343.60" y="458.70" font-size="10.4" font-family='"Liberation Serif", serif' fill="#1f1f1f" textLength="44.00" lengthAdjust="spacingAndGlyphs">Rotational</text>
<text x="343.60" y="471.80" font-size="10.4" font-family='"Liberation Serif", serif' fill="#1f1f1f" textLength="49.90" lengthAdjust="spacingAndGlyphs">Current (A)</text>
<text x="343.60" y="482.90" font-size="10.2" font-family='"Liberation Serif", serif' fill="#1f1f1f">80</text>
<text x="343.00" y="587.20" font-size="10.2" font-family='"Liberation Serif", serif' fill="#1f1f1f">-20</text>
<rect x="358.10" y="480.20" width="5.90" height="104.00" fill="url(#cb1)"/>
<path d="M363.70 584.20h2.3M363.70 579.00h2.3M363.70 573.80h2.3M363.70 568.60h2.3M363.70 563.40h3.5M363.70 558.20h2.3M363.70 553.00h2.3M363.70 547.80h2.3M363.70 542.60h2.3M363.70 537.40h3.5M363.70 532.20h2.3M363.70 527.00h2.3M363.70 521.80h2.3M363.70 516.60h2.3M363.70 511.40h3.5M363.70 506.20h2.3M363.70 501.00h2.3M363.70 495.80h2.3M363.70 490.60h2.3M363.70 485.40h3.5M363.70 480.20h2.3" stroke="#333" stroke-width="0.75" fill="none"/>
<text x="367.60" y="488.00" font-size="10.2" font-family='"Liberation Serif", serif' fill="#1f1f1f">75</text>
<text x="367.60" y="514.20" font-size="10.2" font-family='"Liberation Serif", serif' fill="#1f1f1f">50</text>
<text x="367.60" y="540.40" font-size="10.2" font-family='"Liberation Serif", serif' fill="#1f1f1f">25</text>
<text x="367.60" y="566.40" font-size="10.2" font-family='"Liberation Serif", serif' fill="#1f1f1f">0</text>
<rect x="413.00" y="465.50" width="216.40" height="119.70" fill="none" stroke="#464646" stroke-width="1.15"/>
<rect x="417.00" y="446.00" width="98.00" height="27.40" fill="#fff" stroke="#464646" stroke-width="1.15"/>
<text x="466.00" y="456.40" font-size="10.7" font-family='"Liberation Serif", serif' fill="#1f1f1f" text-anchor="middle">I<tspan font-size="9.3">op</tspan> = 82.25 A</text>
<text x="466.00" y="468.80" font-size="10.7" font-family='"Liberation Serif", serif' fill="#1f1f1f" text-anchor="middle">From point “b” to “c”</text>
<rect x="544.60" y="446.00" width="68.80" height="27.40" fill="#fff" stroke="#464646" stroke-width="1.15"/>
<text x="579.00" y="456.40" font-size="10.7" font-family='"Liberation Serif", serif' fill="#1f1f1f" text-anchor="middle">I<tspan font-size="9.3">op</tspan> = 82.75 A</text>
<text x="579.00" y="468.80" font-size="10.7" font-family='"Liberation Serif", serif' fill="#1f1f1f" text-anchor="middle">At point “c”</text>
<g clip-path="url(#cl6)">
<rect x="418.3" y="478.50000000000006" width="93.4" height="50.2" fill="#3856a6"/>
<rect x="418.3" y="528.7" width="93.4" height="46.7" fill="#3fb48c"/>
<circle cx="463.1" cy="523.9000000000001" r="45.5" fill="url(#lg7)" filter="url(#bl08)"/>
</g>
<circle cx="464.7" cy="525.2" r="20.9" fill="url(#rg8)"/>
<circle cx="464.8" cy="525.0" r="7" fill="#fff"/>
<g clip-path="url(#cl9)">
<rect x="533.4" y="478.6" width="93.2" height="50.1" fill="#3856a6"/>
<rect x="533.4" y="528.7" width="93.2" height="46.6" fill="#3fb48c"/>
<circle cx="578.1" cy="523.9000000000001" r="45.4" fill="url(#lg10)" filter="url(#bl08)"/>
</g>
<circle cx="579.7" cy="525.2" r="16.7" fill="url(#rg11)"/>
<circle cx="579.8" cy="525.0" r="7" fill="#fff"/>
<text x="639.20" y="458.70" font-size="10.4" font-family='"Liberation Serif", serif' fill="#1f1f1f" textLength="44.00" lengthAdjust="spacingAndGlyphs">Rotational</text>
<text x="639.20" y="471.80" font-size="10.4" font-family='"Liberation Serif", serif' fill="#1f1f1f" textLength="49.90" lengthAdjust="spacingAndGlyphs">Current (A)</text>
<text x="639.20" y="482.90" font-size="10.2" font-family='"Liberation Serif", serif' fill="#1f1f1f">80</text>
<text x="638.60" y="587.20" font-size="10.2" font-family='"Liberation Serif", serif' fill="#1f1f1f">-20</text>
<rect x="653.00" y="480.20" width="6.00" height="104.00" fill="url(#cb1)"/>
<path d="M658.70 584.20h2.3M658.70 579.00h2.3M658.70 573.80h2.3M658.70 568.60h2.3M658.70 563.40h3.5M658.70 558.20h2.3M658.70 553.00h2.3M658.70 547.80h2.3M658.70 542.60h2.3M658.70 537.40h3.5M658.70 532.20h2.3M658.70 527.00h2.3M658.70 521.80h2.3M658.70 516.60h2.3M658.70 511.40h3.5M658.70 506.20h2.3M658.70 501.00h2.3M658.70 495.80h2.3M658.70 490.60h2.3M658.70 485.40h3.5M658.70 480.20h2.3" stroke="#333" stroke-width="0.75" fill="none"/>
<text x="662.60" y="488.00" font-size="10.2" font-family='"Liberation Serif", serif' fill="#1f1f1f">75</text>
<text x="662.60" y="514.20" font-size="10.2" font-family='"Liberation Serif", serif' fill="#1f1f1f">50</text>
<text x="662.60" y="540.40" font-size="10.2" font-family='"Liberation Serif", serif' fill="#1f1f1f">25</text>
<text x="662.60" y="566.40" font-size="10.2" font-family='"Liberation Serif", serif' fill="#1f1f1f">0</text>
<rect x="11.30" y="629.40" width="225.70" height="112.00" fill="none" stroke="#464646" stroke-width="1.15"/>
<rect x="16.20" y="607.80" width="100.40" height="28.40" fill="#fff" stroke="#464646" stroke-width="1.15"/>
<text x="66.40" y="619.20" font-size="10.7" font-family='"Liberation Serif", serif' fill="#1f1f1f" text-anchor="middle">I<tspan font-size="9.3">op</tspan> = 82.25 A</text>
<text x="66.40" y="631.50" font-size="10.7" font-family='"Liberation Serif", serif' fill="#1f1f1f" text-anchor="middle">From point “b” to “c”</text>
<rect x="151.50" y="607.80" width="70.90" height="28.40" fill="#fff" stroke="#464646" stroke-width="1.15"/>
<text x="186.95" y="619.20" font-size="10.7" font-family='"Liberation Serif", serif' fill="#1f1f1f" text-anchor="middle">I<tspan font-size="9.3">op</tspan> = 82.75 A</text>
<text x="186.95" y="631.50" font-size="10.7" font-family='"Liberation Serif", serif' fill="#1f1f1f" text-anchor="middle">At point “c”</text>
<circle cx="66.4" cy="687.2" r="48.1" fill="#3e347e"/>
<g clip-path="url(#cl12)"><g filter="url(#bl1)">
<polygon points="86.1,689.9 147.0,607.4 314.5,607.4 314.5,784.7 122.7,784.7" fill="#42689f"/>
<polygon points="92.5,690.4 145.0,627.7 314.5,627.7 314.5,761.2 130.0,761.2" fill="#4888a8"/>
<polygon points="96.6,690.7 142.8,641.8 314.5,641.8 314.5,744.4 135.6,744.4" fill="#4eb6a6"/>
<polygon points="101.4,691.0 138.0,656.2 314.5,656.2 314.5,728.2 136.8,728.2" fill="#56aa44"/>
</g></g>
<circle cx="66.4" cy="687.2" r="6.9" fill="#fff"/>
<circle cx="184.9" cy="687.2" r="48.3" fill="#3e347e"/>
<g clip-path="url(#cl13)"><g filter="url(#bl1)">
<polygon points="198.0,689.1 251.4,574.8 433.2,574.8 433.2,808.2 212.7,808.2" fill="#42689f"/>
<polygon points="202.4,689.4 259.4,595.2 433.2,595.2 433.2,799.2 231.2,799.2" fill="#4888a8"/>
<polygon points="205.4,689.6 263.0,611.0 433.2,611.0 433.2,788.0 244.4,788.0" fill="#4eb6a6"/>
<polygon points="208.8,690.0 265.2,626.4 433.2,626.4 433.2,768.0 253.2,768.0" fill="#56aa44"/>
<polygon points="223.4,691.4 246.2,657.8 433.2,657.8 433.2,726.8 245.0,726.8" fill="#c0b83c"/>
<polygon points="225.8,692.0 246.2,666.8 433.2,666.8 433.2,717.8 245.6,717.8" fill="#d07c30"/>
<polygon points="228.0,692.4 244.8,672.0 433.2,672.0 433.2,713.4 244.8,713.4" fill="#cf3a2a"/>
</g></g>
<circle cx="184.9" cy="687.2" r="6.9" fill="#fff"/>
<text x="240.70" y="617.30" font-size="10.4" font-family='"Liberation Serif", serif' fill="#1f1f1f" textLength="72.50" lengthAdjust="spacingAndGlyphs">Temperature (K)</text>
<rect x="274.30" y="627.40" width="6.10" height="111.60" fill="url(#cb3)"/>
<path d="M280.10 738.54h2.4M280.10 735.17h2.4M280.10 731.80h2.4M280.10 728.43h2.4M280.10 725.05h2.4M280.10 721.68h2.4M280.10 718.31h3.3M280.10 714.93h2.4M280.10 711.56h2.4M280.10 708.19h2.4M280.10 704.81h2.4M280.10 701.44h2.4M280.10 698.07h2.4M280.10 694.69h2.4M280.10 691.32h2.4M280.10 687.95h2.4M280.10 684.57h3.3M280.10 681.20h2.4M280.10 677.83h2.4M280.10 674.46h2.4M280.10 671.08h2.4M280.10 667.71h2.4M280.10 664.34h2.4M280.10 660.96h2.4M280.10 657.59h2.4M280.10 654.22h2.4M280.10 650.84h3.3M280.10 647.47h2.4M280.10 644.10h2.4M280.10 640.72h2.4M280.10 637.35h2.4M280.10 633.98h2.4M280.10 630.60h2.4" stroke="#333" stroke-width="0.75" fill="none"/>
<text x="272.00" y="631.00" font-size="10.200000000000001" font-family='"Liberation Serif", serif' fill="#1f1f1f" text-anchor="end">739</text>
<text x="273.40" y="742.90" font-size="10.200000000000001" font-family='"Liberation Serif", serif' fill="#1f1f1f" text-anchor="end">77.3</text>
<text x="284.20" y="653.60" font-size="10.200000000000001" font-family='"Liberation Serif", serif' fill="#1f1f1f">600</text>
<text x="284.20" y="687.40" font-size="10.200000000000001" font-family='"Liberation Serif", serif' fill="#1f1f1f">400</text>
<text x="284.20" y="721.20" font-size="10.200000000000001" font-family='"Liberation Serif", serif' fill="#1f1f1f">200</text>
<g clip-path="url(#cl15)"><g clip-path="url(#cl14)">
<rect x="345.2" y="609.4" width="200" height="131.8" fill="#3e347e"/>
<g filter="url(#bl2)">
<polygon points="422.0,679.4 492.2,470.0 705.6,470.0 705.6,864.2 420.5,864.2" fill="#3a5aa4"/>
<polygon points="428.0,680.4 518.0,475.2 705.6,475.2 705.6,862.2 455.0,862.2" fill="#42689f"/>
<polygon points="434.0,681.6 554.0,490.8 705.6,490.8 705.6,859.8 482.0,859.8" fill="#4a8aa8"/>
<polygon points="439.0,682.5 575.2,501.0 705.6,501.0 705.6,858.9 505.0,858.9" fill="#4eb6a6"/>
<polygon points="448.0,683.0 571.0,518.0 705.6,518.0 705.6,857.0 517.0,857.0" fill="#52b284"/>
<polygon points="455.0,684.0 569.0,534.0 705.6,534.0 705.6,846.0 530.0,846.0" fill="#56aa44"/>
<polygon points="481.9,688.6 537.7,614.8 705.6,614.8 705.6,788.8 500.2,788.8" fill="#84b840"/>
<polygon points="489.8,689.2 525.2,640.0 705.6,640.0 705.6,775.6 500.9,775.6" fill="#c0b83c"/>
<polygon points="493.2,688.8 520.2,654.3 705.6,654.3 705.6,770.4 502.2,770.4" fill="#d07c30"/>
<polygon points="497.7,689.4 514.5,670.2 705.6,670.2 705.6,745.2 505.2,745.2" fill="#cf3a2a"/>
</g>
<circle cx="385.3" cy="678.8" r="37.8" fill="url(#rg16)"/>
<g fill="none" stroke="#7e2622" stroke-width="0.7" opacity="0.7"><circle cx="385.3" cy="678.8" r="20.50"/><circle cx="385.3" cy="678.8" r="22.55"/><circle cx="385.3" cy="678.8" r="24.60"/><circle cx="385.3" cy="678.8" r="26.65"/><circle cx="385.3" cy="678.8" r="28.70"/><circle cx="385.3" cy="678.8" r="30.75"/><circle cx="385.3" cy="678.8" r="32.80"/><circle cx="385.3" cy="678.8" r="34.85"/><circle cx="385.3" cy="678.8" r="36.90"/></g>
<path d="M405.3 678.8L422.9 678.8M405.2 680.5L422.8 682.1M405.0 682.3L422.3 685.3M404.6 684.0L421.6 688.5M404.1 685.6L420.6 691.7M403.4 687.3L419.4 694.7M402.6 688.8L417.9 697.6M401.7 690.3L416.1 700.4M400.6 691.7L414.1 703.0M399.4 692.9L411.9 705.4M398.2 694.1L409.5 707.6M396.8 695.2L406.9 709.6M395.3 696.1L404.1 711.4M393.8 696.9L401.2 712.9M392.1 697.6L398.2 714.1M390.5 698.1L395.0 715.1M388.8 698.5L391.8 715.8M387.0 698.7L388.6 716.3M385.3 698.8L385.3 716.4M383.6 698.7L382.0 716.3M381.8 698.5L378.8 715.8M380.1 698.1L375.6 715.1M378.5 697.6L372.4 714.1M376.8 696.9L369.4 712.9M375.3 696.1L366.5 711.4M373.8 695.2L363.7 709.6M372.4 694.1L361.1 707.6M371.2 692.9L358.7 705.4M370.0 691.7L356.5 703.0M368.9 690.3L354.5 700.4M368.0 688.8L352.7 697.6M367.2 687.3L351.2 694.7M366.5 685.6L350.0 691.7M366.0 684.0L349.0 688.5M365.6 682.3L348.3 685.3M365.4 680.5L347.8 682.1M365.3 678.8L347.7 678.8M365.4 677.1L347.8 675.5M365.6 675.3L348.3 672.3M366.0 673.6L349.0 669.1M366.5 672.0L350.0 665.9M367.2 670.3L351.2 662.9M368.0 668.8L352.7 660.0M368.9 667.3L354.5 657.2M370.0 665.9L356.5 654.6M371.2 664.7L358.7 652.2M372.4 663.5L361.1 650.0M373.8 662.4L363.7 648.0M375.3 661.5L366.5 646.2M376.8 660.7L369.4 644.7M378.5 660.0L372.4 643.5M380.1 659.5L375.6 642.5M381.8 659.1L378.8 641.8M383.6 658.9L382.0 641.3M385.3 658.8L385.3 641.2M387.0 658.9L388.6 641.3M388.8 659.1L391.8 641.8M390.5 659.5L395.0 642.5M392.1 660.0L398.2 643.5M393.8 660.7L401.2 644.7M395.3 661.5L404.1 646.2M396.8 662.4L406.9 648.0M398.2 663.5L409.5 650.0M399.4 664.7L411.9 652.2M400.6 665.9L414.1 654.6M401.7 667.3L416.1 657.2M402.6 668.8L417.9 660.0M403.4 670.3L419.4 662.9M404.1 672.0L420.6 665.9M404.6 673.6L421.6 669.1M405.0 675.3L422.3 672.3M405.2 677.1L422.8 675.5" stroke="#7e2622" stroke-width="0.6" opacity="0.65" fill="none"/>
<circle cx="385.2" cy="679.7" r="16.4" fill="#fff"/>
</g></g>
<text x="506.60" y="702.50" font-size="10.6" font-family='"Liberation Serif", serif' fill="#1c1c1c" font-weight="bold">Outer</text>
<text x="506.60" y="715.70" font-size="10.6" font-family='"Liberation Serif", serif' fill="#1c1c1c" font-weight="bold" textLength="44.20" lengthAdjust="spacingAndGlyphs">Electrical</text>
<text x="506.60" y="728.50" font-size="10.6" font-family='"Liberation Serif", serif' fill="#1c1c1c" font-weight="bold">Terminal</text>
<line x1="517.2" y1="695.2" x2="510.0" y2="687.6" stroke="#111" stroke-width="1.7"/>
<polygon points="507.9,685.4 515.0,687.8 510.9,688.6 509.9,692.6" fill="#111"/>
<line x1="503.5" y1="678.8" x2="512.1" y2="684.8" stroke="#7a9a3a" stroke-width="0.8"/>
<text x="520.00" y="613.60" font-size="10.4" font-family='"Liberation Serif", serif' fill="#1f1f1f" textLength="82.90" lengthAdjust="spacingAndGlyphs">Current Vector (A)</text>
<rect x="558.20" y="625.00" width="7.10" height="111.00" fill="url(#cb1)"/>
<path d="M565.00 733.41h2.4M565.00 730.79h2.4M565.00 728.16h2.4M565.00 725.53h2.4M565.00 722.90h2.4M565.00 720.27h2.4M565.00 717.65h2.4M565.00 715.02h2.4M565.00 712.39h2.4M565.00 709.76h3.3M565.00 707.13h2.4M565.00 704.50h2.4M565.00 701.88h2.4M565.00 699.25h2.4M565.00 696.62h2.4M565.00 693.99h2.4M565.00 691.36h2.4M565.00 688.73h2.4M565.00 686.11h2.4M565.00 683.48h3.3M565.00 680.85h2.4M565.00 678.22h2.4M565.00 675.59h2.4M565.00 672.97h2.4M565.00 670.34h2.4M565.00 667.71h2.4M565.00 665.08h2.4M565.00 662.45h2.4M565.00 659.82h2.4M565.00 657.20h3.3M565.00 654.57h2.4M565.00 651.94h2.4M565.00 649.31h2.4M565.00 646.68h2.4M565.00 644.05h2.4M565.00 641.43h2.4M565.00 638.80h2.4M565.00 636.17h2.4M565.00 633.54h2.4M565.00 630.91h3.3M565.00 628.29h2.4M565.00 625.66h2.4" stroke="#333" stroke-width="0.75" fill="none"/>
<text x="552.00" y="628.50" font-size="10.200000000000001" font-family='"Liberation Serif", serif' fill="#1f1f1f" text-anchor="end">84.5</text>
<text x="552.00" y="739.10" font-size="10.200000000000001" font-family='"Liberation Serif", serif' fill="#1f1f1f" text-anchor="end">0.0326</text>
<text x="572.10" y="635.30" font-size="10.200000000000001" font-family='"Liberation Serif", serif' fill="#1f1f1f">80</text>
<text x="572.10" y="662.20" font-size="10.200000000000001" font-family='"Liberation Serif", serif' fill="#1f1f1f">60</text>
<text x="572.10" y="688.00" font-size="10.200000000000001" font-family='"Liberation Serif", serif' fill="#1f1f1f">40</text>
<text x="572.10" y="712.80" font-size="10.200000000000001" font-family='"Liberation Serif", serif' fill="#1f1f1f">20</text>
<text x="616.10" y="613.60" font-size="10.4" font-family='"Liberation Serif", serif' fill="#1f1f1f" textLength="72.50" lengthAdjust="spacingAndGlyphs">Temperature (K)</text>
<rect x="650.20" y="625.00" width="5.20" height="111.00" fill="url(#cb3)"/>
<path d="M655.10 735.55h2.4M655.10 732.19h2.4M655.10 728.84h2.4M655.10 725.48h2.4M655.10 722.13h2.4M655.10 718.77h2.4M655.10 715.42h3.3M655.10 712.06h2.4M655.10 708.71h2.4M655.10 705.35h2.4M655.10 702.00h2.4M655.10 698.64h2.4M655.10 695.29h2.4M655.10 691.93h2.4M655.10 688.58h2.4M655.10 685.22h2.4M655.10 681.87h3.3M655.10 678.51h2.4M655.10 675.16h2.4M655.10 671.80h2.4M655.10 668.45h2.4M655.10 665.09h2.4M655.10 661.74h2.4M655.10 658.38h2.4M655.10 655.03h2.4M655.10 651.67h2.4M655.10 648.32h3.3M655.10 644.96h2.4M655.10 641.61h2.4M655.10 638.25h2.4M655.10 634.90h2.4M655.10 631.54h2.4M655.10 628.19h2.4" stroke="#333" stroke-width="0.75" fill="none"/>
<text x="648.00" y="628.50" font-size="10.200000000000001" font-family='"Liberation Serif", serif' fill="#1f1f1f" text-anchor="end">739</text>
<text x="648.00" y="739.00" font-size="10.200000000000001" font-family='"Liberation Serif", serif' fill="#1f1f1f" text-anchor="end">77.3</text>
<text x="658.90" y="650.20" font-size="10.200000000000001" font-family='"Liberation Serif", serif' fill="#1f1f1f">600</text>
<text x="658.90" y="684.00" font-size="10.200000000000001" font-family='"Liberation Serif", serif' fill="#1f1f1f">400</text>
<text x="658.90" y="717.40" font-size="10.200000000000001" font-family='"Liberation Serif", serif' fill="#1f1f1f">200</text>
<rect x="21.00" y="779.80" width="224.30" height="111.50" fill="none" stroke="#464646" stroke-width="1.15"/>
<rect x="26.40" y="759.10" width="99.40" height="28.80" fill="#fff" stroke="#464646" stroke-width="1.15"/>
<text x="76.10" y="769.40" font-size="10.7" font-family='"Liberation Serif", serif' fill="#1f1f1f" text-anchor="middle">I<tspan font-size="9.3">op</tspan> = 70 A</text>
<text x="76.10" y="782.00" font-size="10.7" font-family='"Liberation Serif", serif' fill="#1f1f1f" text-anchor="middle">From point “a” to “b”</text>
<rect x="159.50" y="759.20" width="69.70" height="28.80" fill="#fff" stroke="#464646" stroke-width="1.15"/>
<text x="194.35" y="769.50" font-size="10.7" font-family='"Liberation Serif", serif' fill="#1f1f1f" text-anchor="middle">I<tspan font-size="9.3">op</tspan> = 81.85 A</text>
<text x="194.35" y="782.10" font-size="10.7" font-family='"Liberation Serif", serif' fill="#1f1f1f" text-anchor="middle">At point “b”</text>
<circle cx="76.9" cy="839" r="47.6" fill="#3e347e"/>
<circle cx="76.9" cy="839" r="6.9" fill="#fff"/>
<circle cx="193.1" cy="839" r="47.5" fill="#3e347e"/>
<g clip-path="url(#cl18)"><g filter="url(#bl1)"><ellipse cx="241" cy="841" rx="6" ry="9" fill="#4478b8"/></g></g>
<circle cx="192.8" cy="838.8" r="6.9" fill="#fff"/>
<text x="249.30" y="765.50" font-size="10.4" font-family='"Liberation Serif", serif' fill="#1f1f1f" textLength="71.30" lengthAdjust="spacingAndGlyphs">Temperature (K)</text>
<rect x="281.80" y="776.30" width="6.20" height="111.00" fill="url(#cb3)"/>
<path d="M287.70 886.85h2.4M287.70 883.49h2.4M287.70 880.14h2.4M287.70 876.78h2.4M287.70 873.43h2.4M287.70 870.07h2.4M287.70 866.72h3.3M287.70 863.36h2.4M287.70 860.01h2.4M287.70 856.65h2.4M287.70 853.30h2.4M287.70 849.94h2.4M287.70 846.59h2.4M287.70 843.23h2.4M287.70 839.88h2.4M287.70 836.52h2.4M287.70 833.17h3.3M287.70 829.81h2.4M287.70 826.46h2.4M287.70 823.10h2.4M287.70 819.75h2.4M287.70 816.39h2.4M287.70 813.04h2.4M287.70 809.68h2.4M287.70 806.33h2.4M287.70 802.97h2.4M287.70 799.62h3.3M287.70 796.26h2.4M287.70 792.91h2.4M287.70 789.55h2.4M287.70 786.20h2.4M287.70 782.84h2.4M287.70 779.49h2.4" stroke="#333" stroke-width="0.75" fill="none"/>
<text x="279.80" y="780.00" font-size="10.200000000000001" font-family='"Liberation Serif", serif' fill="#1f1f1f" text-anchor="end">739</text>
<text x="280.40" y="891.00" font-size="10.200000000000001" font-family='"Liberation Serif", serif' fill="#1f1f1f" text-anchor="end">77.3</text>
<text x="292.70" y="801.70" font-size="10.200000000000001" font-family='"Liberation Serif", serif' fill="#1f1f1f">600</text>
<text x="292.70" y="835.80" font-size="10.200000000000001" font-family='"Liberation Serif", serif' fill="#1f1f1f">400</text>
<text x="292.70" y="870.00" font-size="10.200000000000001" font-family='"Liberation Serif", serif' fill="#1f1f1f">200</text>
<rect x="21.00" y="937.00" width="224.30" height="111.90" fill="none" stroke="#464646" stroke-width="1.15"/>
<rect x="26.40" y="916.80" width="99.40" height="28.10" fill="#fff" stroke="#464646" stroke-width="1.15"/>
<text x="76.10" y="927.10" font-size="10.7" font-family='"Liberation Serif", serif' fill="#1f1f1f" text-anchor="middle">I<tspan font-size="9.3">op</tspan> = 82.25 A</text>
<text x="76.10" y="939.70" font-size="10.7" font-family='"Liberation Serif", serif' fill="#1f1f1f" text-anchor="middle">From point “b” to “c”</text>
<rect x="160.40" y="916.80" width="69.70" height="27.80" fill="#fff" stroke="#464646" stroke-width="1.15"/>
<text x="195.25" y="927.10" font-size="10.7" font-family='"Liberation Serif", serif' fill="#1f1f1f" text-anchor="middle">I<tspan font-size="9.3">op</tspan> = 82.75 A</text>
<text x="195.25" y="939.70" font-size="10.7" font-family='"Liberation Serif", serif' fill="#1f1f1f" text-anchor="middle">At point “c”</text>
<circle cx="76.6" cy="995.1" r="47.2823" fill="#3e347e"/>
<g clip-path="url(#cl19)"><g filter="url(#bl1)">
<polygon points="96.0,997.8 155.8,916.7 323.9,916.7 323.9,1090.9 131.9,1090.9" fill="#42689f"/>
<polygon points="102.3,998.2 153.9,936.6 323.9,936.6 323.9,1067.8 139.1,1067.8" fill="#4888a8"/>
<polygon points="106.3,998.5 151.7,950.5 323.9,950.5 323.9,1051.3 144.6,1051.3" fill="#4eb6a6"/>
<polygon points="111.0,998.8 147.0,964.6 323.9,964.6 323.9,1035.4 145.8,1035.4" fill="#56aa44"/>
</g></g>
<circle cx="76.6" cy="995.1" r="6.9" fill="#fff"/>
<circle cx="193.0855" cy="995.1" r="47.478899999999996" fill="#3e347e"/>
<g clip-path="url(#cl20)"><g filter="url(#bl1)">
<polygon points="206.0,997.0 258.5,884.6 440.6,884.6 440.6,1114.0 220.4,1114.0" fill="#42689f"/>
<polygon points="210.3,997.3 266.3,904.7 440.6,904.7 440.6,1105.2 238.6,1105.2" fill="#4888a8"/>
<polygon points="213.2,997.5 269.9,920.2 440.6,920.2 440.6,1094.2 251.6,1094.2" fill="#4eb6a6"/>
<polygon points="216.6,997.9 272.0,935.3 440.6,935.3 440.6,1074.5 260.2,1074.5" fill="#56aa44"/>
<polygon points="230.9,999.2 253.3,966.2 440.6,966.2 440.6,1034.0 252.2,1034.0" fill="#c0b83c"/>
<polygon points="233.3,999.8 253.3,975.0 440.6,975.0 440.6,1025.2 252.8,1025.2" fill="#d07c30"/>
<polygon points="235.5,1000.2 252.0,980.2 440.6,980.2 440.6,1020.9 252.0,1020.9" fill="#cf3a2a"/>
</g></g>
<circle cx="193.0855" cy="995.1" r="6.9" fill="#fff"/>
<text x="249.30" y="925.10" font-size="10.4" font-family='"Liberation Serif", serif' fill="#1f1f1f" textLength="71.30" lengthAdjust="spacingAndGlyphs">Temperature (K)</text>
<rect x="282.20" y="936.00" width="5.40" height="110.00" fill="url(#cb3)"/>
<path d="M287.30 1045.55h2.4M287.30 1042.23h2.4M287.30 1038.90h2.4M287.30 1035.58h2.4M287.30 1032.25h2.4M287.30 1028.93h2.4M287.30 1025.60h3.3M287.30 1022.28h2.4M287.30 1018.95h2.4M287.30 1015.63h2.4M287.30 1012.30h2.4M287.30 1008.98h2.4M287.30 1005.65h2.4M287.30 1002.33h2.4M287.30 999.00h2.4M287.30 995.68h2.4M287.30 992.35h3.3M287.30 989.03h2.4M287.30 985.71h2.4M287.30 982.38h2.4M287.30 979.06h2.4M287.30 975.73h2.4M287.30 972.41h2.4M287.30 969.08h2.4M287.30 965.76h2.4M287.30 962.43h2.4M287.30 959.11h3.3M287.30 955.78h2.4M287.30 952.46h2.4M287.30 949.13h2.4M287.30 945.81h2.4M287.30 942.48h2.4M287.30 939.16h2.4" stroke="#333" stroke-width="0.75" fill="none"/>
<text x="279.80" y="939.10" font-size="10.200000000000001" font-family='"Liberation Serif", serif' fill="#1f1f1f" text-anchor="end">739</text>
<text x="280.40" y="1050.60" font-size="10.200000000000001" font-family='"Liberation Serif", serif' fill="#1f1f1f" text-anchor="end">77.3</text>
<text x="292.70" y="961.70" font-size="10.200000000000001" font-family='"Liberation Serif", serif' fill="#1f1f1f">600</text>
<text x="292.70" y="995.50" font-size="10.200000000000001" font-family='"Liberation Serif", serif' fill="#1f1f1f">400</text>
<text x="292.70" y="1028.30" font-size="10.200000000000001" font-family='"Liberation Serif", serif' fill="#1f1f1f">200</text>
<g clip-path="url(#cl22)"><g clip-path="url(#cl21)">
<rect x="352.0" y="917.6" width="200" height="131.8" fill="#3e347e"/>
<g filter="url(#bl2)">
<polygon points="428.8,987.6 499.0,778.2 712.4,778.2 712.4,1172.4 427.3,1172.4" fill="#3a5aa4"/>
<polygon points="434.8,988.6 524.8,783.4 712.4,783.4 712.4,1170.4 461.8,1170.4" fill="#42689f"/>
<polygon points="440.8,989.8 560.8,799.0 712.4,799.0 712.4,1168.0 488.8,1168.0" fill="#4a8aa8"/>
<polygon points="445.8,990.7 582.0,809.2 712.4,809.2 712.4,1167.1 511.8,1167.1" fill="#4eb6a6"/>
<polygon points="454.8,991.2 577.8,826.2 712.4,826.2 712.4,1165.2 523.8,1165.2" fill="#52b284"/>
<polygon points="461.8,992.2 575.8,842.2 712.4,842.2 712.4,1154.2 536.8,1154.2" fill="#56aa44"/>
<polygon points="488.7,996.8 544.5,923.0 712.4,923.0 712.4,1097.0 507.0,1097.0" fill="#84b840"/>
<polygon points="496.6,997.4 532.0,948.2 712.4,948.2 712.4,1083.8 507.7,1083.8" fill="#c0b83c"/>
<polygon points="500.0,997.0 527.0,962.5 712.4,962.5 712.4,1078.6 509.0,1078.6" fill="#d07c30"/>
<polygon points="504.5,997.6 521.3,978.4 712.4,978.4 712.4,1053.4 512.0,1053.4" fill="#cf3a2a"/>
</g>
<circle cx="392.1" cy="987.0" r="37.8" fill="url(#rg23)"/>
<g fill="none" stroke="#7e2622" stroke-width="0.7" opacity="0.7"><circle cx="392.1" cy="987.0" r="20.50"/><circle cx="392.1" cy="987.0" r="22.55"/><circle cx="392.1" cy="987.0" r="24.60"/><circle cx="392.1" cy="987.0" r="26.65"/><circle cx="392.1" cy="987.0" r="28.70"/><circle cx="392.1" cy="987.0" r="30.75"/><circle cx="392.1" cy="987.0" r="32.80"/><circle cx="392.1" cy="987.0" r="34.85"/><circle cx="392.1" cy="987.0" r="36.90"/></g>
<path d="M412.1 987.0L429.7 987.0M412.0 988.7L429.6 990.3M411.8 990.5L429.1 993.5M411.4 992.2L428.4 996.7M410.9 993.8L427.4 999.9M410.2 995.5L426.2 1002.9M409.4 997.0L424.7 1005.8M408.5 998.5L422.9 1008.6M407.4 999.9L420.9 1011.2M406.2 1001.1L418.7 1013.6M405.0 1002.3L416.3 1015.8M403.6 1003.4L413.7 1017.8M402.1 1004.3L410.9 1019.6M400.6 1005.1L408.0 1021.1M398.9 1005.8L405.0 1022.3M397.3 1006.3L401.8 1023.3M395.6 1006.7L398.6 1024.0M393.8 1006.9L395.4 1024.5M392.1 1007.0L392.1 1024.6M390.4 1006.9L388.8 1024.5M388.6 1006.7L385.6 1024.0M386.9 1006.3L382.4 1023.3M385.3 1005.8L379.2 1022.3M383.6 1005.1L376.2 1021.1M382.1 1004.3L373.3 1019.6M380.6 1003.4L370.5 1017.8M379.2 1002.3L367.9 1015.8M378.0 1001.1L365.5 1013.6M376.8 999.9L363.3 1011.2M375.7 998.5L361.3 1008.6M374.8 997.0L359.5 1005.8M374.0 995.5L358.0 1002.9M373.3 993.8L356.8 999.9M372.8 992.2L355.8 996.7M372.4 990.5L355.1 993.5M372.2 988.7L354.6 990.3M372.1 987.0L354.5 987.0M372.2 985.3L354.6 983.7M372.4 983.5L355.1 980.5M372.8 981.8L355.8 977.3M373.3 980.2L356.8 974.1M374.0 978.5L358.0 971.1M374.8 977.0L359.5 968.2M375.7 975.5L361.3 965.4M376.8 974.1L363.3 962.8M378.0 972.9L365.5 960.4M379.2 971.7L367.9 958.2M380.6 970.6L370.5 956.2M382.1 969.7L373.3 954.4M383.6 968.9L376.2 952.9M385.3 968.2L379.2 951.7M386.9 967.7L382.4 950.7M388.6 967.3L385.6 950.0M390.4 967.1L388.8 949.5M392.1 967.0L392.1 949.4M393.8 967.1L395.4 949.5M395.6 967.3L398.6 950.0M397.3 967.7L401.8 950.7M398.9 968.2L405.0 951.7M400.6 968.9L408.0 952.9M402.1 969.7L410.9 954.4M403.6 970.6L413.7 956.2M405.0 971.7L416.3 958.2M406.2 972.9L418.7 960.4M407.4 974.1L420.9 962.8M408.5 975.5L422.9 965.4M409.4 977.0L424.7 968.2M410.2 978.5L426.2 971.1M410.9 980.2L427.4 974.1M411.4 981.8L428.4 977.3M411.8 983.5L429.1 980.5M412.0 985.3L429.6 983.7" stroke="#7e2622" stroke-width="0.6" opacity="0.65" fill="none"/>
<circle cx="392.0" cy="987.9" r="16.4" fill="#fff"/>
</g></g>
<text x="512.70" y="1010.30" font-size="10.6" font-family='"Liberation Serif", serif' fill="#1c1c1c" font-weight="bold">Outer</text>
<text x="512.70" y="1023.20" font-size="10.6" font-family='"Liberation Serif", serif' fill="#1c1c1c" font-weight="bold" textLength="44.20" lengthAdjust="spacingAndGlyphs">Electrical</text>
<text x="512.70" y="1036.50" font-size="10.6" font-family='"Liberation Serif", serif' fill="#1c1c1c" font-weight="bold">Terminal</text>
<line x1="522.5" y1="1002.7" x2="514.9" y2="994.9" stroke="#111" stroke-width="1.7"/>
<polygon points="512.8,992.8 519.9,995.1 515.9,995.9 514.9,1000.0" fill="#111"/>
<line x1="510.4" y1="987.2" x2="518.0" y2="992.6" stroke="#7a9a3a" stroke-width="0.8"/>
<text x="525.60" y="922.00" font-size="10.4" font-family='"Liberation Serif", serif' fill="#1f1f1f" textLength="82.90" lengthAdjust="spacingAndGlyphs">Current Vector (A)</text>
<rect x="563.40" y="932.90" width="6.60" height="110.60" fill="url(#cb1)"/>
<path d="M569.70 1040.92h2.4M569.70 1038.31h2.4M569.70 1035.69h2.4M569.70 1033.07h2.4M569.70 1030.45h2.4M569.70 1027.83h2.4M569.70 1025.21h2.4M569.70 1022.59h2.4M569.70 1019.97h2.4M569.70 1017.36h3.3M569.70 1014.74h2.4M569.70 1012.12h2.4M569.70 1009.50h2.4M569.70 1006.88h2.4M569.70 1004.26h2.4M569.70 1001.64h2.4M569.70 999.02h2.4M569.70 996.40h2.4M569.70 993.79h2.4M569.70 991.17h3.3M569.70 988.55h2.4M569.70 985.93h2.4M569.70 983.31h2.4M569.70 980.69h2.4M569.70 978.07h2.4M569.70 975.45h2.4M569.70 972.84h2.4M569.70 970.22h2.4M569.70 967.60h2.4M569.70 964.98h3.3M569.70 962.36h2.4M569.70 959.74h2.4M569.70 957.12h2.4M569.70 954.50h2.4M569.70 951.89h2.4M569.70 949.27h2.4M569.70 946.65h2.4M569.70 944.03h2.4M569.70 941.41h2.4M569.70 938.79h3.3M569.70 936.17h2.4M569.70 933.55h2.4" stroke="#333" stroke-width="0.75" fill="none"/>
<text x="556.80" y="936.90" font-size="10.200000000000001" font-family='"Liberation Serif", serif' fill="#1f1f1f" text-anchor="end">84.5</text>
<text x="557.60" y="1046.60" font-size="10.200000000000001" font-family='"Liberation Serif", serif' fill="#1f1f1f" text-anchor="end">0.0326</text>
<text x="576.80" y="943.70" font-size="10.200000000000001" font-family='"Liberation Serif", serif' fill="#1f1f1f">80</text>
<text x="576.80" y="970.00" font-size="10.200000000000001" font-family='"Liberation Serif", serif' fill="#1f1f1f">60</text>
<text x="576.80" y="996.40" font-size="10.200000000000001" font-family='"Liberation Serif", serif' fill="#1f1f1f">40</text>
<text x="576.80" y="1020.30" font-size="10.200000000000001" font-family='"Liberation Serif", serif' fill="#1f1f1f">20</text>
<text x="620.20" y="922.00" font-size="10.4" font-family='"Liberation Serif", serif' fill="#1f1f1f" textLength="72.50" lengthAdjust="spacingAndGlyphs">Temperature (K)</text>
<rect x="654.20" y="932.90" width="5.30" height="110.60" fill="url(#cb3)"/>
<path d="M659.20 1043.05h2.4M659.20 1039.71h2.4M659.20 1036.36h2.4M659.20 1033.02h2.4M659.20 1029.68h2.4M659.20 1026.33h2.4M659.20 1022.99h3.3M659.20 1019.65h2.4M659.20 1016.31h2.4M659.20 1012.96h2.4M659.20 1009.62h2.4M659.20 1006.28h2.4M659.20 1002.93h2.4M659.20 999.59h2.4M659.20 996.25h2.4M659.20 992.91h2.4M659.20 989.56h3.3M659.20 986.22h2.4M659.20 982.88h2.4M659.20 979.53h2.4M659.20 976.19h2.4M659.20 972.85h2.4M659.20 969.50h2.4M659.20 966.16h2.4M659.20 962.82h2.4M659.20 959.48h2.4M659.20 956.13h3.3M659.20 952.79h2.4M659.20 949.45h2.4M659.20 946.10h2.4M659.20 942.76h2.4M659.20 939.42h2.4M659.20 936.08h2.4" stroke="#333" stroke-width="0.75" fill="none"/>
<text x="651.80" y="936.00" font-size="10.200000000000001" font-family='"Liberation Serif", serif' fill="#1f1f1f" text-anchor="end">739</text>
<text x="651.80" y="1046.00" font-size="10.200000000000001" font-family='"Liberation Serif", serif' fill="#1f1f1f" text-anchor="end">77.3</text>
<text x="663.50" y="958.30" font-size="10.200000000000001" font-family='"Liberation Serif", serif' fill="#1f1f1f">600</text>
<text x="663.50" y="991.80" font-size="10.200000000000001" font-family='"Liberation Serif", serif' fill="#1f1f1f">400</text>
<text x="663.50" y="1025.90" font-size="10.200000000000001" font-family='"Liberation Serif", serif' fill="#1f1f1f">200</text>
<g clip-path="url(#cl25)"><g clip-path="url(#cl24)">
<rect x="352.2" y="761.7" width="200" height="132.3" fill="#c4392c"/>
<circle cx="403.4" cy="828.3" r="27" fill="url(#rg26)"/>
<path d="M407.4 802.3A26.3 26.3 0 0 1 407.4 854.3L405.4 842.3A14.2 14.2 0 0 0 405.4 814.3Z" fill="#c8482c" opacity="0.6" filter="url(#bl1)"/>
<g fill="none" stroke-linecap="round" filter="url(#bl0)"><path d="M383.9 834.3A20.4 20.4 0 0 1 409.4 808.8" stroke="#6cc044" stroke-width="1.7"/><path d="M387.2 829.3A16.4 16.4 0 0 1 406.4 812.2" stroke="#8cc644" stroke-width="1.4"/><path d="M380.8 836.3A24 24 0 0 1 397.4 805.1" stroke="#b8c040" stroke-width="1.3"/><path d="M415.4 837.3A15 15 0 0 1 394.4 840.3" stroke="#34409a" stroke-width="1.2"/></g>
<g fill="none" stroke="#66382a" stroke-width="0.85" opacity="0.72"><circle cx="401.8" cy="828" r="16.40"/><circle cx="401.8" cy="828" r="18.20"/><circle cx="401.8" cy="828" r="20.00"/><circle cx="401.8" cy="828" r="21.80"/><circle cx="401.8" cy="828" r="23.60"/><circle cx="401.8" cy="828" r="25.40"/><circle cx="401.8" cy="828" r="27.20"/><circle cx="401.8" cy="828" r="29.00"/><circle cx="401.8" cy="828" r="30.80"/><circle cx="401.8" cy="828" r="32.60"/><circle cx="401.8" cy="828" r="34.40"/><circle cx="401.8" cy="828" r="36.20"/><circle cx="401.8" cy="828" r="38.00"/><circle cx="401.8" cy="828" r="39.80"/><circle cx="401.8" cy="828" r="41.60"/><circle cx="401.8" cy="828" r="43.40"/><circle cx="401.8" cy="828" r="45.20"/><circle cx="401.8" cy="828" r="47.00"/><circle cx="401.8" cy="828" r="48.80"/><circle cx="401.8" cy="828" r="50.60"/><circle cx="401.8" cy="828" r="52.40"/><circle cx="401.8" cy="828" r="54.20"/><circle cx="401.8" cy="828" r="56.00"/><circle cx="401.8" cy="828" r="57.80"/><circle cx="401.8" cy="828" r="59.60"/><circle cx="401.8" cy="828" r="61.40"/><circle cx="401.8" cy="828" r="63.20"/><circle cx="401.8" cy="828" r="65.00"/><circle cx="401.8" cy="828" r="66.80"/><circle cx="401.8" cy="828" r="68.60"/><circle cx="401.8" cy="828" r="70.40"/><circle cx="401.8" cy="828" r="72.20"/><circle cx="401.8" cy="828" r="74.00"/><circle cx="401.8" cy="828" r="75.80"/><circle cx="401.8" cy="828" r="77.60"/><circle cx="401.8" cy="828" r="79.40"/><circle cx="401.8" cy="828" r="81.20"/><circle cx="401.8" cy="828" r="83.00"/><circle cx="401.8" cy="828" r="84.80"/><circle cx="401.8" cy="828" r="86.60"/><circle cx="401.8" cy="828" r="88.40"/><circle cx="401.8" cy="828" r="90.20"/><circle cx="401.8" cy="828" r="92.00"/><circle cx="401.8" cy="828" r="93.80"/><circle cx="401.8" cy="828" r="95.60"/><circle cx="401.8" cy="828" r="97.40"/><circle cx="401.8" cy="828" r="99.20"/></g>
<circle cx="403.4" cy="828.3" r="31.0" fill="none" stroke="#34409c" stroke-width="1.3"/>
<circle cx="403.4" cy="828.3" r="32.5" fill="none" stroke="#58b848" stroke-width="1.5"/>
<circle cx="403.4" cy="828.3" r="40.4" fill="none" stroke="#c8b83c" stroke-width="1.3"/>
<circle cx="403.4" cy="828.3" r="41.9" fill="none" stroke="#34469e" stroke-width="1.3"/>
<circle cx="403.4" cy="828.3" r="43.3" fill="none" stroke="#5cba48" stroke-width="1.5"/>
<circle cx="403.4" cy="828.3" r="45.0" fill="none" stroke="#d0983a" stroke-width="1.2"/>
<path d="M420.4 821.3l1.2 5M427.4 820.3l1 5.5M434.4 819.8l0.6 4M446.4 820.3l0.6 4" stroke="#c63d2c" stroke-width="2.2" fill="none"/>
<circle cx="401.2" cy="828" r="79.4" fill="none" stroke="#e0923a" stroke-width="1.6" stroke-dasharray="2.6 1.8"/>
<circle cx="401.2" cy="828" r="83.4" fill="none" stroke="#3a44a0" stroke-width="1.8" stroke-dasharray="3 1.6"/>
<circle cx="401.2" cy="828" r="87.4" fill="none" stroke="#3a44a0" stroke-width="1.8" stroke-dasharray="3 1.6"/>
<circle cx="401.2" cy="828" r="96.4" fill="none" stroke="url(#lg27)" stroke-width="8"/>
<circle cx="401.2" cy="828" r="91.4" fill="none" stroke="#58c0c8" stroke-width="0.9" stroke-dasharray="1.6 2.6"/>
<circle cx="403.4" cy="828.3" r="14" fill="#fff"/>
</g></g>
<text x="503.50" y="856.80" font-size="10.6" font-family='"Liberation Serif", serif' fill="#1c1c1c" font-weight="bold">Outer</text>
<text x="503.50" y="869.70" font-size="10.6" font-family='"Liberation Serif", serif' fill="#1c1c1c" font-weight="bold" textLength="44.20" lengthAdjust="spacingAndGlyphs">Electrical</text>
<text x="503.50" y="883.00" font-size="10.6" font-family='"Liberation Serif", serif' fill="#1c1c1c" font-weight="bold">Terminal</text>
<line x1="510.4" y1="845.6" x2="504.8" y2="840.1" stroke="#111" stroke-width="1.7"/>
<polygon points="502.7,838.0 509.9,840.1 505.8,841.1 504.9,845.1" fill="#111"/>
<line x1="500.9" y1="825.0" x2="507.3" y2="833.7" stroke="#4fa83c" stroke-width="0.8"/>
<text x="525.60" y="771.10" font-size="10.4" font-family='"Liberation Serif", serif' fill="#1f1f1f" textLength="82.90" lengthAdjust="spacingAndGlyphs">Current Vector (A)</text>
<rect x="563.40" y="780.00" width="6.20" height="111.00" fill="url(#cb1)"/>
<path d="M569.30 888.52h2.4M569.30 885.99h2.4M569.30 883.47h2.4M569.30 880.95h2.4M569.30 878.42h2.4M569.30 875.90h2.4M569.30 873.38h2.4M569.30 870.85h2.4M569.30 868.33h2.4M569.30 865.80h3.3M569.30 863.28h2.4M569.30 860.76h2.4M569.30 858.23h2.4M569.30 855.71h2.4M569.30 853.19h2.4M569.30 850.66h2.4M569.30 848.14h2.4M569.30 845.62h2.4M569.30 843.09h2.4M569.30 840.57h3.3M569.30 838.04h2.4M569.30 835.52h2.4M569.30 833.00h2.4M569.30 830.47h2.4M569.30 827.95h2.4M569.30 825.43h2.4M569.30 822.90h2.4M569.30 820.38h2.4M569.30 817.85h2.4M569.30 815.33h3.3M569.30 812.81h2.4M569.30 810.28h2.4M569.30 807.76h2.4M569.30 805.24h2.4M569.30 802.71h2.4M569.30 800.19h2.4M569.30 797.67h2.4M569.30 795.14h2.4M569.30 792.62h2.4M569.30 790.09h3.3M569.30 787.57h2.4M569.30 785.05h2.4M569.30 782.52h2.4M569.30 780.00h2.4" stroke="#333" stroke-width="0.75" fill="none"/>
<text x="559.20" y="783.50" font-size="10.200000000000001" font-family='"Liberation Serif", serif' fill="#1f1f1f" text-anchor="end">88</text>
<text x="559.70" y="895.60" font-size="10.200000000000001" font-family='"Liberation Serif", serif' fill="#1f1f1f" text-anchor="end">0.0326</text>
<text x="576.80" y="794.90" font-size="10.200000000000001" font-family='"Liberation Serif", serif' fill="#1f1f1f">80</text>
<text x="576.80" y="818.20" font-size="10.200000000000001" font-family='"Liberation Serif", serif' fill="#1f1f1f">60</text>
<text x="576.80" y="842.00" font-size="10.200000000000001" font-family='"Liberation Serif", serif' fill="#1f1f1f">40</text>
<text x="576.80" y="868.70" font-size="10.200000000000001" font-family='"Liberation Serif", serif' fill="#1f1f1f">20</text>
<text x="620.20" y="771.00" font-size="10.4" font-family='"Liberation Serif", serif' fill="#1f1f1f" textLength="72.50" lengthAdjust="spacingAndGlyphs">Temperature (K)</text>
<rect x="654.20" y="781.00" width="5.30" height="111.00" fill="url(#cb3)"/>
<path d="M659.20 891.55h2.4M659.20 888.19h2.4M659.20 884.84h2.4M659.20 881.48h2.4M659.20 878.13h2.4M659.20 874.77h2.4M659.20 871.42h3.3M659.20 868.06h2.4M659.20 864.71h2.4M659.20 861.35h2.4M659.20 858.00h2.4M659.20 854.64h2.4M659.20 851.29h2.4M659.20 847.93h2.4M659.20 844.58h2.4M659.20 841.22h2.4M659.20 837.87h3.3M659.20 834.51h2.4M659.20 831.16h2.4M659.20 827.80h2.4M659.20 824.45h2.4M659.20 821.09h2.4M659.20 817.74h2.4M659.20 814.38h2.4M659.20 811.03h2.4M659.20 807.67h2.4M659.20 804.32h3.3M659.20 800.96h2.4M659.20 797.61h2.4M659.20 794.25h2.4M659.20 790.90h2.4M659.20 787.54h2.4M659.20 784.19h2.4" stroke="#333" stroke-width="0.75" fill="none"/>
<text x="651.80" y="784.00" font-size="10.200000000000001" font-family='"Liberation Serif", serif' fill="#1f1f1f" text-anchor="end">739</text>
<text x="651.80" y="896.30" font-size="10.200000000000001" font-family='"Liberation Serif", serif' fill="#1f1f1f" text-anchor="end">77.3</text>
<text x="663.50" y="807.30" font-size="10.200000000000001" font-family='"Liberation Serif", serif' fill="#1f1f1f">600</text>
<text x="663.50" y="840.80" font-size="10.200000000000001" font-family='"Liberation Serif", serif' fill="#1f1f1f">400</text>
<text x="663.50" y="874.60" font-size="10.200000000000001" font-family='"Liberation Serif", serif' fill="#1f1f1f">200</text>
</svg>
</body></html>
